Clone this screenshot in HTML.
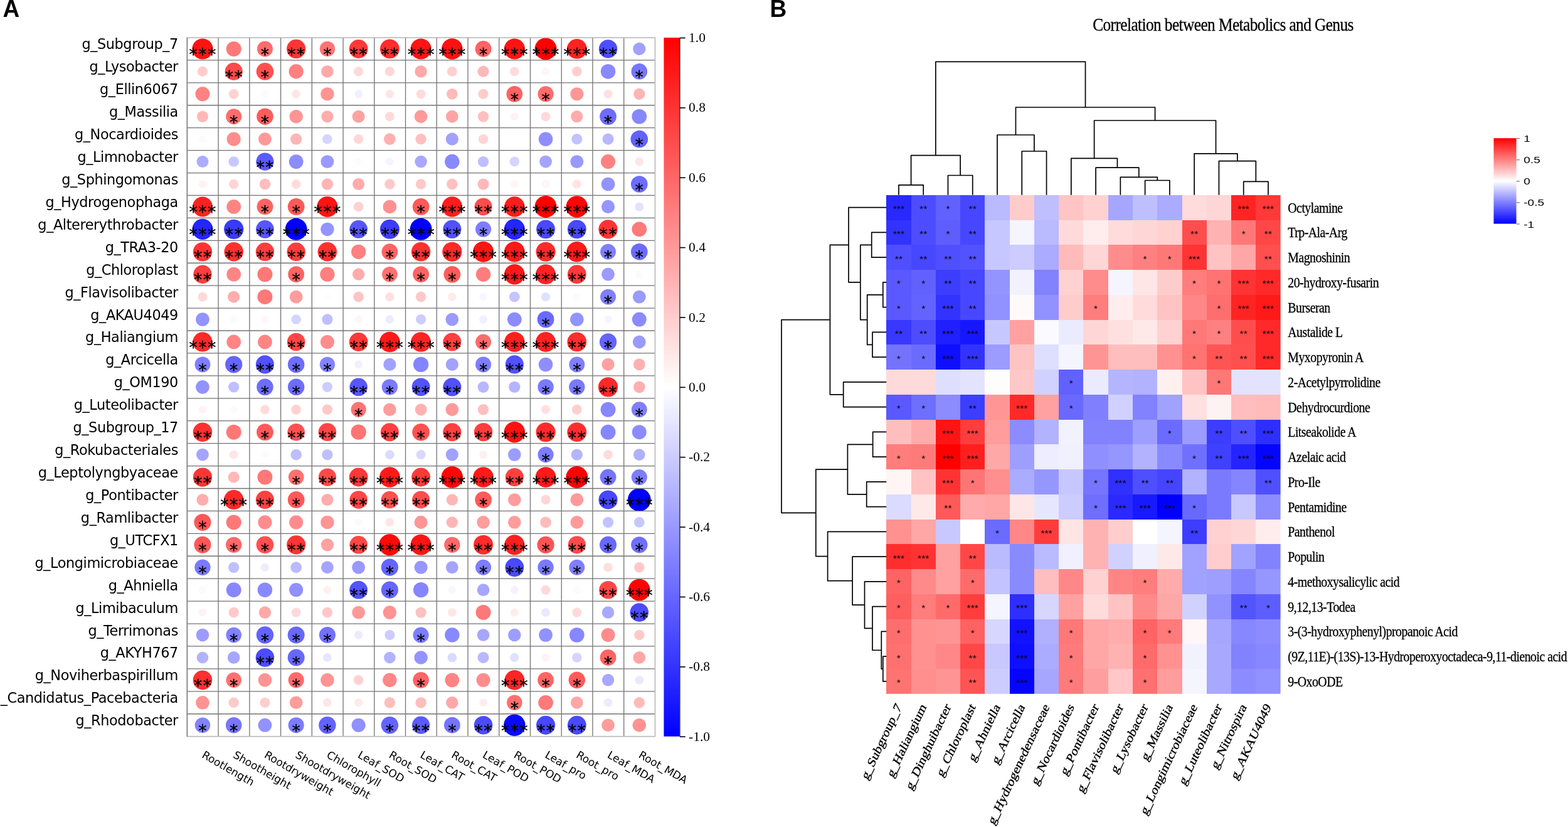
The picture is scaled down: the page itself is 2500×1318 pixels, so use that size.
<!DOCTYPE html>
<html lang="en"><head><meta charset="utf-8"><title>Correlation between Metabolics and Genus</title>
<style>
html,body{margin:0;padding:0;background:#fff;}
body{width:2500px;height:1318px;overflow:hidden;}
svg{display:block;}
.dj{font-family:"DejaVu Sans","Liberation Sans",sans-serif;}
.ls{font-family:"Liberation Serif",serif;}
.la{font-family:"Liberation Sans",sans-serif;}
</style></head><body>
<svg width="2500" height="1318" viewBox="0 0 2500 1318">
<defs>
<linearGradient id="gA" x1="0" y1="0" x2="0" y2="1"><stop offset="0" stop-color="#ff0000"/><stop offset="0.5" stop-color="#ffffff"/><stop offset="1" stop-color="#0000ff"/></linearGradient>
</defs>
<rect x="0" y="0" width="2500" height="1318" fill="#ffffff"/>
<text class="la" transform="translate(4.6,26.6) scale(1,1.06)" font-size="37" font-weight="bold" fill="#000">A</text>
<text class="la" transform="translate(1227.4,26.6) scale(1,1.06)" font-size="37" font-weight="bold" fill="#000">B</text>
<g id="panelA">
<g>
<circle cx="322.97" cy="77.96" r="16.56" fill="#ff1414"/>
<circle cx="372.7" cy="77.96" r="11.98" fill="#ff7878"/>
<circle cx="422.44" cy="77.96" r="12.51" fill="#ff6c6c"/>
<circle cx="472.17" cy="77.96" r="15.09" fill="#ff3434"/>
<circle cx="521.91" cy="77.96" r="12.15" fill="#ff7474"/>
<circle cx="571.64" cy="77.96" r="14.92" fill="#ff3838"/>
<circle cx="621.38" cy="77.96" r="15.38" fill="#ff2e2e"/>
<circle cx="671.11" cy="77.96" r="16.56" fill="#ff1414"/>
<circle cx="720.85" cy="77.96" r="16.74" fill="#ff1111"/>
<circle cx="770.58" cy="77.96" r="12.92" fill="#ff6363"/>
<circle cx="820.32" cy="77.96" r="16.56" fill="#ff1414"/>
<circle cx="870.05" cy="77.96" r="17.5" fill="#ff0000"/>
<circle cx="919.79" cy="77.96" r="15.91" fill="#ff2222"/>
<circle cx="969.52" cy="77.96" r="14.68" fill="#4e4eff"/>
<circle cx="1019.26" cy="77.96" r="10.1" fill="#a1a1ff"/>
<circle cx="322.97" cy="113.89" r="8.1" fill="#ffcccc"/>
<circle cx="372.7" cy="113.89" r="14.09" fill="#ff4a4a"/>
<circle cx="422.44" cy="113.89" r="13.8" fill="#ff5050"/>
<circle cx="472.17" cy="113.89" r="11.62" fill="#ff8080"/>
<circle cx="521.91" cy="113.89" r="9.75" fill="#ffa8a8"/>
<circle cx="571.64" cy="113.89" r="7.51" fill="#ffd9d9"/>
<circle cx="621.38" cy="113.89" r="7.63" fill="#ffd6d6"/>
<circle cx="671.11" cy="113.89" r="9.75" fill="#ffa8a8"/>
<circle cx="720.85" cy="113.89" r="7.98" fill="#ffcfcf"/>
<circle cx="770.58" cy="113.89" r="9.04" fill="#ffb8b8"/>
<circle cx="820.32" cy="113.89" r="7.4" fill="#ffdbdb"/>
<circle cx="870.05" cy="113.89" r="6.22" fill="#fff5f5"/>
<circle cx="919.79" cy="113.89" r="7.98" fill="#ffcfcf"/>
<circle cx="969.52" cy="113.89" r="11.74" fill="#8989ff"/>
<circle cx="1019.26" cy="113.89" r="12.8" fill="#7777ff"/>
<circle cx="322.97" cy="149.81" r="11.51" fill="#ff8282"/>
<circle cx="372.7" cy="149.81" r="7.87" fill="#ffd1d1"/>
<circle cx="422.44" cy="149.81" r="5.99" fill="#fafaff"/>
<circle cx="472.17" cy="149.81" r="6.92" fill="#ffe6e6"/>
<circle cx="521.91" cy="149.81" r="10.68" fill="#ff9494"/>
<circle cx="571.64" cy="149.81" r="6.46" fill="#f0f0ff"/>
<circle cx="621.38" cy="149.81" r="6.92" fill="#ffe6e6"/>
<circle cx="671.11" cy="149.81" r="7.4" fill="#ffdbdb"/>
<circle cx="720.85" cy="149.81" r="8.92" fill="#ffbaba"/>
<circle cx="770.58" cy="149.81" r="8.1" fill="#ffcccc"/>
<circle cx="820.32" cy="149.81" r="12.92" fill="#ff6363"/>
<circle cx="870.05" cy="149.81" r="12.56" fill="#ff6b6b"/>
<circle cx="919.79" cy="149.81" r="10.57" fill="#ff9696"/>
<circle cx="969.52" cy="149.81" r="7.16" fill="#ffe0e0"/>
<circle cx="1019.26" cy="149.81" r="9.16" fill="#ffb5b5"/>
<circle cx="322.97" cy="185.74" r="9.04" fill="#ffb8b8"/>
<circle cx="372.7" cy="185.74" r="12.51" fill="#ff6c6c"/>
<circle cx="422.44" cy="185.74" r="13.27" fill="#ff5c5c"/>
<circle cx="472.17" cy="185.74" r="10.68" fill="#ff9494"/>
<circle cx="521.91" cy="185.74" r="9.57" fill="#ffacac"/>
<circle cx="571.64" cy="185.74" r="10.04" fill="#ffa2a2"/>
<circle cx="621.38" cy="185.74" r="7.51" fill="#ffd9d9"/>
<circle cx="671.11" cy="185.74" r="10.39" fill="#ff9a9a"/>
<circle cx="720.85" cy="185.74" r="9.92" fill="#ffa4a4"/>
<circle cx="770.58" cy="185.74" r="8.69" fill="#ffbfbf"/>
<circle cx="820.32" cy="185.74" r="6.34" fill="#fff2f2"/>
<circle cx="870.05" cy="185.74" r="7.51" fill="#ffd9d9"/>
<circle cx="919.79" cy="185.74" r="9.63" fill="#ffabab"/>
<circle cx="969.52" cy="185.74" r="13.33" fill="#6c6cff"/>
<circle cx="1019.26" cy="185.74" r="11.86" fill="#8787ff"/>
<circle cx="322.97" cy="221.66" r="5.99" fill="#fafaff"/>
<circle cx="372.7" cy="221.66" r="11.04" fill="#ff8c8c"/>
<circle cx="422.44" cy="221.66" r="10.45" fill="#ff9999"/>
<circle cx="472.17" cy="221.66" r="9.16" fill="#ffb5b5"/>
<circle cx="521.91" cy="221.66" r="7.75" fill="#d4d4ff"/>
<circle cx="571.64" cy="221.66" r="7.63" fill="#ffd6d6"/>
<circle cx="621.38" cy="221.66" r="9.39" fill="#ffb0b0"/>
<circle cx="671.11" cy="221.66" r="8.69" fill="#ffbfbf"/>
<circle cx="720.85" cy="221.66" r="10.1" fill="#a1a1ff"/>
<circle cx="770.58" cy="221.66" r="7.75" fill="#ffd4d4"/>
<circle cx="870.05" cy="221.66" r="11.27" fill="#8e8eff"/>
<circle cx="919.79" cy="221.66" r="8.57" fill="#c2c2ff"/>
<circle cx="969.52" cy="221.66" r="9.04" fill="#b8b8ff"/>
<circle cx="1019.26" cy="221.66" r="13.8" fill="#6161ff"/>
<circle cx="322.97" cy="257.59" r="9.51" fill="#adadff"/>
<circle cx="372.7" cy="257.59" r="8.28" fill="#c8c8ff"/>
<circle cx="422.44" cy="257.59" r="14.15" fill="#5a5aff"/>
<circle cx="472.17" cy="257.59" r="11.39" fill="#8c8cff"/>
<circle cx="521.91" cy="257.59" r="10.45" fill="#9999ff"/>
<circle cx="571.64" cy="257.59" r="5.99" fill="#fffafa"/>
<circle cx="621.38" cy="257.59" r="6.22" fill="#f5f5ff"/>
<circle cx="671.11" cy="257.59" r="9.75" fill="#a8a8ff"/>
<circle cx="720.85" cy="257.59" r="11.74" fill="#8989ff"/>
<circle cx="770.58" cy="257.59" r="8.69" fill="#bfbfff"/>
<circle cx="820.32" cy="257.59" r="7.75" fill="#d4d4ff"/>
<circle cx="870.05" cy="257.59" r="9.92" fill="#a4a4ff"/>
<circle cx="919.79" cy="257.59" r="10.45" fill="#9999ff"/>
<circle cx="969.52" cy="257.59" r="11.51" fill="#ff8282"/>
<circle cx="1019.26" cy="257.59" r="6.92" fill="#ffe6e6"/>
<circle cx="322.97" cy="293.51" r="6.34" fill="#fff2f2"/>
<circle cx="372.7" cy="293.51" r="7.75" fill="#ffd4d4"/>
<circle cx="422.44" cy="293.51" r="8.8" fill="#ffbdbd"/>
<circle cx="472.17" cy="293.51" r="7.4" fill="#ffdbdb"/>
<circle cx="521.91" cy="293.51" r="9.16" fill="#ffb5b5"/>
<circle cx="571.64" cy="293.51" r="9.57" fill="#ffacac"/>
<circle cx="621.38" cy="293.51" r="8.28" fill="#ffc8c8"/>
<circle cx="671.11" cy="293.51" r="8.28" fill="#ffc8c8"/>
<circle cx="720.85" cy="293.51" r="8.69" fill="#ffbfbf"/>
<circle cx="770.58" cy="293.51" r="9.04" fill="#ffb8b8"/>
<circle cx="820.32" cy="293.51" r="6.22" fill="#fff5f5"/>
<circle cx="870.05" cy="293.51" r="6.22" fill="#fff5f5"/>
<circle cx="919.79" cy="293.51" r="7.04" fill="#ffe3e3"/>
<circle cx="969.52" cy="293.51" r="10.8" fill="#9393ff"/>
<circle cx="1019.26" cy="293.51" r="13.33" fill="#6c6cff"/>
<circle cx="322.97" cy="329.44" r="15.97" fill="#ff2121"/>
<circle cx="372.7" cy="329.44" r="11.39" fill="#ff8585"/>
<circle cx="422.44" cy="329.44" r="12.92" fill="#ff6363"/>
<circle cx="472.17" cy="329.44" r="13.39" fill="#ff5959"/>
<circle cx="521.91" cy="329.44" r="16.56" fill="#ff1414"/>
<circle cx="571.64" cy="329.44" r="7.87" fill="#ffd1d1"/>
<circle cx="621.38" cy="329.44" r="10.8" fill="#ff9191"/>
<circle cx="671.11" cy="329.44" r="13.39" fill="#ff5959"/>
<circle cx="720.85" cy="329.44" r="16.21" fill="#ff1c1c"/>
<circle cx="770.58" cy="329.44" r="13.97" fill="#ff4d4d"/>
<circle cx="820.32" cy="329.44" r="16.21" fill="#ff1c1c"/>
<circle cx="870.05" cy="329.44" r="17.5" fill="#ff0000"/>
<circle cx="919.79" cy="329.44" r="17.27" fill="#ff0505"/>
<circle cx="969.52" cy="329.44" r="10.57" fill="#9696ff"/>
<circle cx="1019.26" cy="329.44" r="7.04" fill="#e3e3ff"/>
<circle cx="322.97" cy="365.36" r="16.56" fill="#2525ff"/>
<circle cx="372.7" cy="365.36" r="15.62" fill="#3a3aff"/>
<circle cx="422.44" cy="365.36" r="14.33" fill="#5656ff"/>
<circle cx="472.17" cy="365.36" r="17.5" fill="#0000ff"/>
<circle cx="521.91" cy="365.36" r="10.68" fill="#9494ff"/>
<circle cx="571.64" cy="365.36" r="14.33" fill="#5656ff"/>
<circle cx="621.38" cy="365.36" r="15.5" fill="#3c3cff"/>
<circle cx="671.11" cy="365.36" r="17.5" fill="#0000ff"/>
<circle cx="720.85" cy="365.36" r="14.56" fill="#5151ff"/>
<circle cx="770.58" cy="365.36" r="12.51" fill="#7d7dff"/>
<circle cx="820.32" cy="365.36" r="16.56" fill="#2525ff"/>
<circle cx="870.05" cy="365.36" r="14.92" fill="#4949ff"/>
<circle cx="919.79" cy="365.36" r="14.92" fill="#4949ff"/>
<circle cx="969.52" cy="365.36" r="15.15" fill="#ff3333"/>
<circle cx="1019.26" cy="365.36" r="11.86" fill="#ff7a7a"/>
<circle cx="322.97" cy="401.29" r="15.15" fill="#ff3333"/>
<circle cx="372.7" cy="401.29" r="15.27" fill="#ff3030"/>
<circle cx="422.44" cy="401.29" r="14.68" fill="#ff3d3d"/>
<circle cx="472.17" cy="401.29" r="14.68" fill="#ff3d3d"/>
<circle cx="521.91" cy="401.29" r="15.27" fill="#ff3030"/>
<circle cx="571.64" cy="401.29" r="11.62" fill="#ff8080"/>
<circle cx="621.38" cy="401.29" r="12.92" fill="#ff6363"/>
<circle cx="671.11" cy="401.29" r="15.27" fill="#ff3030"/>
<circle cx="720.85" cy="401.29" r="15.62" fill="#ff2929"/>
<circle cx="770.58" cy="401.29" r="16.56" fill="#ff1414"/>
<circle cx="820.32" cy="401.29" r="16.33" fill="#ff1919"/>
<circle cx="870.05" cy="401.29" r="15.5" fill="#ff2b2b"/>
<circle cx="919.79" cy="401.29" r="16.33" fill="#ff1919"/>
<circle cx="969.52" cy="401.29" r="12.45" fill="#7f7fff"/>
<circle cx="1019.26" cy="401.29" r="13.33" fill="#6c6cff"/>
<circle cx="322.97" cy="437.21" r="14.68" fill="#ff3d3d"/>
<circle cx="372.7" cy="437.21" r="11.39" fill="#ff8585"/>
<circle cx="422.44" cy="437.21" r="11.98" fill="#ff7878"/>
<circle cx="472.17" cy="437.21" r="12.92" fill="#ff6363"/>
<circle cx="521.91" cy="437.21" r="11.62" fill="#ff8080"/>
<circle cx="571.64" cy="437.21" r="9.63" fill="#ffabab"/>
<circle cx="621.38" cy="437.21" r="12.33" fill="#ff7070"/>
<circle cx="671.11" cy="437.21" r="12.92" fill="#ff6363"/>
<circle cx="720.85" cy="437.21" r="13.33" fill="#ff5b5b"/>
<circle cx="770.58" cy="437.21" r="11.74" fill="#ff7d7d"/>
<circle cx="820.32" cy="437.21" r="16.33" fill="#ff1919"/>
<circle cx="870.05" cy="437.21" r="15.91" fill="#ff2222"/>
<circle cx="919.79" cy="437.21" r="14.92" fill="#ff3838"/>
<circle cx="969.52" cy="437.21" r="10.39" fill="#9a9aff"/>
<circle cx="1019.26" cy="437.21" r="5.99" fill="#fafaff"/>
<circle cx="322.97" cy="473.14" r="7.51" fill="#ffd9d9"/>
<circle cx="372.7" cy="473.14" r="9.51" fill="#ffadad"/>
<circle cx="422.44" cy="473.14" r="11.98" fill="#ff7878"/>
<circle cx="472.17" cy="473.14" r="10.33" fill="#ff9c9c"/>
<circle cx="521.91" cy="473.14" r="5.87" fill="#fffcfc"/>
<circle cx="571.64" cy="473.14" r="8.45" fill="#ffc4c4"/>
<circle cx="621.38" cy="473.14" r="7.16" fill="#ffe0e0"/>
<circle cx="671.11" cy="473.14" r="8.28" fill="#ffc8c8"/>
<circle cx="720.85" cy="473.14" r="6.69" fill="#ffebeb"/>
<circle cx="770.58" cy="473.14" r="6.1" fill="#f7f7ff"/>
<circle cx="820.32" cy="473.14" r="8.45" fill="#c4c4ff"/>
<circle cx="870.05" cy="473.14" r="7.16" fill="#e0e0ff"/>
<circle cx="919.79" cy="473.14" r="5.99" fill="#fafaff"/>
<circle cx="969.52" cy="473.14" r="12.45" fill="#7f7fff"/>
<circle cx="1019.26" cy="473.14" r="10.39" fill="#9a9aff"/>
<circle cx="322.97" cy="509.06" r="10.8" fill="#9393ff"/>
<circle cx="372.7" cy="509.06" r="5.99" fill="#fafaff"/>
<circle cx="422.44" cy="509.06" r="6.1" fill="#fff7f7"/>
<circle cx="472.17" cy="509.06" r="7.75" fill="#d4d4ff"/>
<circle cx="521.91" cy="509.06" r="8.69" fill="#bfbfff"/>
<circle cx="571.64" cy="509.06" r="6.22" fill="#fff5f5"/>
<circle cx="621.38" cy="509.06" r="6.69" fill="#ebebff"/>
<circle cx="671.11" cy="509.06" r="8.1" fill="#ccccff"/>
<circle cx="720.85" cy="509.06" r="10.39" fill="#9a9aff"/>
<circle cx="770.58" cy="509.06" r="6.46" fill="#f0f0ff"/>
<circle cx="820.32" cy="509.06" r="11.39" fill="#8c8cff"/>
<circle cx="870.05" cy="509.06" r="13.39" fill="#6a6aff"/>
<circle cx="919.79" cy="509.06" r="10.8" fill="#9393ff"/>
<circle cx="969.52" cy="509.06" r="6.22" fill="#f5f5ff"/>
<circle cx="1019.26" cy="509.06" r="11.51" fill="#8b8bff"/>
<circle cx="322.97" cy="544.99" r="15.62" fill="#ff2929"/>
<circle cx="372.7" cy="544.99" r="11.39" fill="#ff8585"/>
<circle cx="422.44" cy="544.99" r="11.39" fill="#ff8585"/>
<circle cx="472.17" cy="544.99" r="14.33" fill="#ff4545"/>
<circle cx="521.91" cy="544.99" r="11.04" fill="#ff8c8c"/>
<circle cx="571.64" cy="544.99" r="14.92" fill="#ff3838"/>
<circle cx="621.38" cy="544.99" r="16.33" fill="#ff1919"/>
<circle cx="671.11" cy="544.99" r="15.86" fill="#ff2424"/>
<circle cx="720.85" cy="544.99" r="14.56" fill="#ff4040"/>
<circle cx="770.58" cy="544.99" r="12.51" fill="#ff6c6c"/>
<circle cx="820.32" cy="544.99" r="16.09" fill="#ff1f1f"/>
<circle cx="870.05" cy="544.99" r="15.91" fill="#ff2222"/>
<circle cx="919.79" cy="544.99" r="15.38" fill="#ff2e2e"/>
<circle cx="969.52" cy="544.99" r="13.62" fill="#6565ff"/>
<circle cx="1019.26" cy="544.99" r="10.39" fill="#9a9aff"/>
<circle cx="322.97" cy="580.91" r="12.45" fill="#7f7fff"/>
<circle cx="372.7" cy="580.91" r="13.62" fill="#6565ff"/>
<circle cx="422.44" cy="580.91" r="14.56" fill="#5151ff"/>
<circle cx="472.17" cy="580.91" r="13.27" fill="#6d6dff"/>
<circle cx="521.91" cy="580.91" r="12.15" fill="#8484ff"/>
<circle cx="571.64" cy="580.91" r="6.46" fill="#f0f0ff"/>
<circle cx="621.38" cy="580.91" r="10.1" fill="#a1a1ff"/>
<circle cx="671.11" cy="580.91" r="12.15" fill="#8484ff"/>
<circle cx="720.85" cy="580.91" r="10.1" fill="#a1a1ff"/>
<circle cx="770.58" cy="580.91" r="12.51" fill="#7d7dff"/>
<circle cx="820.32" cy="580.91" r="14.56" fill="#5151ff"/>
<circle cx="870.05" cy="580.91" r="11.27" fill="#8e8eff"/>
<circle cx="919.79" cy="580.91" r="12.45" fill="#7f7fff"/>
<circle cx="969.52" cy="580.91" r="10.1" fill="#ffa1a1"/>
<circle cx="1019.26" cy="580.91" r="9.39" fill="#ffb0b0"/>
<circle cx="322.97" cy="616.84" r="10.8" fill="#9393ff"/>
<circle cx="372.7" cy="616.84" r="8.69" fill="#bfbfff"/>
<circle cx="422.44" cy="616.84" r="13.27" fill="#6d6dff"/>
<circle cx="472.17" cy="616.84" r="13.27" fill="#6d6dff"/>
<circle cx="521.91" cy="616.84" r="8.1" fill="#ccccff"/>
<circle cx="571.64" cy="616.84" r="14.27" fill="#5757ff"/>
<circle cx="621.38" cy="616.84" r="12.68" fill="#7a7aff"/>
<circle cx="671.11" cy="616.84" r="14.45" fill="#5353ff"/>
<circle cx="720.85" cy="616.84" r="14.56" fill="#5151ff"/>
<circle cx="770.58" cy="616.84" r="9.04" fill="#b8b8ff"/>
<circle cx="820.32" cy="616.84" r="9.16" fill="#b5b5ff"/>
<circle cx="870.05" cy="616.84" r="12.68" fill="#7a7aff"/>
<circle cx="919.79" cy="616.84" r="12.68" fill="#7a7aff"/>
<circle cx="969.52" cy="616.84" r="15.62" fill="#ff2929"/>
<circle cx="1019.26" cy="616.84" r="9.39" fill="#ffb0b0"/>
<circle cx="322.97" cy="652.76" r="6.34" fill="#fff2f2"/>
<circle cx="372.7" cy="652.76" r="5.87" fill="#fcfcff"/>
<circle cx="422.44" cy="652.76" r="7.4" fill="#ffdbdb"/>
<circle cx="472.17" cy="652.76" r="7.87" fill="#ffd1d1"/>
<circle cx="521.91" cy="652.76" r="8.28" fill="#ffc8c8"/>
<circle cx="571.64" cy="652.76" r="12.15" fill="#ff7474"/>
<circle cx="621.38" cy="652.76" r="10.33" fill="#ff9c9c"/>
<circle cx="671.11" cy="652.76" r="9.39" fill="#ffb0b0"/>
<circle cx="720.85" cy="652.76" r="10.39" fill="#ff9a9a"/>
<circle cx="770.58" cy="652.76" r="8.69" fill="#ffbfbf"/>
<circle cx="870.05" cy="652.76" r="7.16" fill="#ffe0e0"/>
<circle cx="919.79" cy="652.76" r="7.98" fill="#ffcfcf"/>
<circle cx="969.52" cy="652.76" r="11.98" fill="#8686ff"/>
<circle cx="1019.26" cy="652.76" r="12.45" fill="#7f7fff"/>
<circle cx="322.97" cy="688.69" r="15.27" fill="#ff3030"/>
<circle cx="372.7" cy="688.69" r="11.98" fill="#ff7878"/>
<circle cx="422.44" cy="688.69" r="13.39" fill="#ff5959"/>
<circle cx="472.17" cy="688.69" r="13.8" fill="#ff5050"/>
<circle cx="521.91" cy="688.69" r="14.33" fill="#ff4545"/>
<circle cx="571.64" cy="688.69" r="12.15" fill="#ff7474"/>
<circle cx="621.38" cy="688.69" r="14.56" fill="#ff4040"/>
<circle cx="671.11" cy="688.69" r="13.8" fill="#ff5050"/>
<circle cx="720.85" cy="688.69" r="14.56" fill="#ff4040"/>
<circle cx="770.58" cy="688.69" r="14.68" fill="#ff3d3d"/>
<circle cx="820.32" cy="688.69" r="16.74" fill="#ff1111"/>
<circle cx="870.05" cy="688.69" r="15.5" fill="#ff2b2b"/>
<circle cx="919.79" cy="688.69" r="15.38" fill="#ff2e2e"/>
<circle cx="969.52" cy="688.69" r="11.98" fill="#8686ff"/>
<circle cx="1019.26" cy="688.69" r="11.51" fill="#8b8bff"/>
<circle cx="322.97" cy="724.61" r="9.92" fill="#a4a4ff"/>
<circle cx="372.7" cy="724.61" r="6.92" fill="#ffe6e6"/>
<circle cx="422.44" cy="724.61" r="5.99" fill="#fffafa"/>
<circle cx="472.17" cy="724.61" r="8.8" fill="#bdbdff"/>
<circle cx="521.91" cy="724.61" r="8.69" fill="#bfbfff"/>
<circle cx="621.38" cy="724.61" r="7.4" fill="#dbdbff"/>
<circle cx="671.11" cy="724.61" r="7.51" fill="#d9d9ff"/>
<circle cx="720.85" cy="724.61" r="10.1" fill="#a1a1ff"/>
<circle cx="770.58" cy="724.61" r="6.46" fill="#fff0f0"/>
<circle cx="820.32" cy="724.61" r="10.33" fill="#9c9cff"/>
<circle cx="870.05" cy="724.61" r="12.56" fill="#7c7cff"/>
<circle cx="919.79" cy="724.61" r="9.16" fill="#b5b5ff"/>
<circle cx="969.52" cy="724.61" r="7.4" fill="#ffdbdb"/>
<circle cx="1019.26" cy="724.61" r="9.39" fill="#b0b0ff"/>
<circle cx="322.97" cy="760.54" r="15.09" fill="#ff3434"/>
<circle cx="372.7" cy="760.54" r="9.04" fill="#ffb8b8"/>
<circle cx="422.44" cy="760.54" r="11.98" fill="#ff7878"/>
<circle cx="472.17" cy="760.54" r="12.33" fill="#ff7070"/>
<circle cx="521.91" cy="760.54" r="14.15" fill="#ff4949"/>
<circle cx="571.64" cy="760.54" r="14.92" fill="#ff3838"/>
<circle cx="621.38" cy="760.54" r="16.33" fill="#ff1919"/>
<circle cx="671.11" cy="760.54" r="14.92" fill="#ff3838"/>
<circle cx="720.85" cy="760.54" r="17.27" fill="#ff0505"/>
<circle cx="770.58" cy="760.54" r="16.33" fill="#ff1919"/>
<circle cx="820.32" cy="760.54" r="14.56" fill="#ff4040"/>
<circle cx="870.05" cy="760.54" r="16.33" fill="#ff1919"/>
<circle cx="919.79" cy="760.54" r="17.5" fill="#ff0000"/>
<circle cx="969.52" cy="760.54" r="12.92" fill="#7474ff"/>
<circle cx="1019.26" cy="760.54" r="12.56" fill="#7c7cff"/>
<circle cx="322.97" cy="796.46" r="9.51" fill="#ffadad"/>
<circle cx="372.7" cy="796.46" r="15.62" fill="#ff2929"/>
<circle cx="422.44" cy="796.46" r="14.56" fill="#ff4040"/>
<circle cx="472.17" cy="796.46" r="13.39" fill="#ff5959"/>
<circle cx="521.91" cy="796.46" r="9.57" fill="#ffacac"/>
<circle cx="571.64" cy="796.46" r="14.27" fill="#ff4646"/>
<circle cx="621.38" cy="796.46" r="13.8" fill="#ff5050"/>
<circle cx="671.11" cy="796.46" r="13.97" fill="#ff4d4d"/>
<circle cx="720.85" cy="796.46" r="9.16" fill="#ffb5b5"/>
<circle cx="770.58" cy="796.46" r="13.33" fill="#ff5b5b"/>
<circle cx="820.32" cy="796.46" r="10.33" fill="#ff9c9c"/>
<circle cx="870.05" cy="796.46" r="7.63" fill="#ffd6d6"/>
<circle cx="919.79" cy="796.46" r="10.39" fill="#ff9a9a"/>
<circle cx="969.52" cy="796.46" r="15.03" fill="#4747ff"/>
<circle cx="1019.26" cy="796.46" r="18.44" fill="#0000ff"/>
<circle cx="322.97" cy="832.39" r="13.51" fill="#ff5757"/>
<circle cx="372.7" cy="832.39" r="11.98" fill="#ff7878"/>
<circle cx="422.44" cy="832.39" r="11.04" fill="#ff8c8c"/>
<circle cx="472.17" cy="832.39" r="11.04" fill="#ff8c8c"/>
<circle cx="521.91" cy="832.39" r="10.68" fill="#ff9494"/>
<circle cx="571.64" cy="832.39" r="5.99" fill="#fafaff"/>
<circle cx="621.38" cy="832.39" r="6.92" fill="#ffe6e6"/>
<circle cx="671.11" cy="832.39" r="10.57" fill="#ff9696"/>
<circle cx="720.85" cy="832.39" r="9.16" fill="#ffb5b5"/>
<circle cx="770.58" cy="832.39" r="10.33" fill="#ff9c9c"/>
<circle cx="820.32" cy="832.39" r="10.33" fill="#ff9c9c"/>
<circle cx="870.05" cy="832.39" r="8.92" fill="#ffbaba"/>
<circle cx="919.79" cy="832.39" r="10.39" fill="#ff9a9a"/>
<circle cx="969.52" cy="832.39" r="8.57" fill="#c2c2ff"/>
<circle cx="1019.26" cy="832.39" r="8.34" fill="#c7c7ff"/>
<circle cx="322.97" cy="868.31" r="13.51" fill="#ff5757"/>
<circle cx="372.7" cy="868.31" r="12.68" fill="#ff6969"/>
<circle cx="422.44" cy="868.31" r="13.8" fill="#ff5050"/>
<circle cx="472.17" cy="868.31" r="15.09" fill="#ff3434"/>
<circle cx="521.91" cy="868.31" r="10.1" fill="#ffa1a1"/>
<circle cx="571.64" cy="868.31" r="14.27" fill="#ff4646"/>
<circle cx="621.38" cy="868.31" r="17.15" fill="#ff0808"/>
<circle cx="671.11" cy="868.31" r="16.56" fill="#ff1414"/>
<circle cx="720.85" cy="868.31" r="12.68" fill="#ff6969"/>
<circle cx="770.58" cy="868.31" r="15.5" fill="#ff2b2b"/>
<circle cx="820.32" cy="868.31" r="16.09" fill="#ff1f1f"/>
<circle cx="870.05" cy="868.31" r="13.62" fill="#ff5454"/>
<circle cx="919.79" cy="868.31" r="14.09" fill="#ff4a4a"/>
<circle cx="969.52" cy="868.31" r="13.51" fill="#6868ff"/>
<circle cx="1019.26" cy="868.31" r="13.15" fill="#6f6fff"/>
<circle cx="322.97" cy="904.24" r="12.68" fill="#7a7aff"/>
<circle cx="372.7" cy="904.24" r="8.69" fill="#bfbfff"/>
<circle cx="422.44" cy="904.24" r="6.57" fill="#ededff"/>
<circle cx="472.17" cy="904.24" r="8.92" fill="#babaff"/>
<circle cx="521.91" cy="904.24" r="9.92" fill="#a4a4ff"/>
<circle cx="571.64" cy="904.24" r="10.45" fill="#9999ff"/>
<circle cx="621.38" cy="904.24" r="13.62" fill="#6565ff"/>
<circle cx="671.11" cy="904.24" r="10.57" fill="#9696ff"/>
<circle cx="720.85" cy="904.24" r="9.92" fill="#a4a4ff"/>
<circle cx="770.58" cy="904.24" r="12.51" fill="#7d7dff"/>
<circle cx="820.32" cy="904.24" r="14.92" fill="#4949ff"/>
<circle cx="870.05" cy="904.24" r="12.68" fill="#7a7aff"/>
<circle cx="919.79" cy="904.24" r="12.45" fill="#7f7fff"/>
<circle cx="969.52" cy="904.24" r="7.28" fill="#ffdede"/>
<circle cx="1019.26" cy="904.24" r="8.28" fill="#ffc8c8"/>
<circle cx="322.97" cy="940.16" r="5.99" fill="#fafaff"/>
<circle cx="372.7" cy="940.16" r="11.86" fill="#8787ff"/>
<circle cx="422.44" cy="940.16" r="11.74" fill="#8989ff"/>
<circle cx="472.17" cy="940.16" r="11.04" fill="#9090ff"/>
<circle cx="521.91" cy="940.16" r="6.46" fill="#fff0f0"/>
<circle cx="571.64" cy="940.16" r="14.45" fill="#5353ff"/>
<circle cx="621.38" cy="940.16" r="13.56" fill="#6666ff"/>
<circle cx="671.11" cy="940.16" r="12.1" fill="#8585ff"/>
<circle cx="720.85" cy="940.16" r="6.1" fill="#f7f7ff"/>
<circle cx="770.58" cy="940.16" r="9.86" fill="#a6a6ff"/>
<circle cx="820.32" cy="940.16" r="6.34" fill="#f2f2ff"/>
<circle cx="870.05" cy="940.16" r="7.51" fill="#ffd9d9"/>
<circle cx="919.79" cy="940.16" r="5.99" fill="#fafaff"/>
<circle cx="969.52" cy="940.16" r="14.27" fill="#ff4646"/>
<circle cx="1019.26" cy="940.16" r="17.38" fill="#ff0303"/>
<circle cx="322.97" cy="976.09" r="6.34" fill="#fff2f2"/>
<circle cx="372.7" cy="976.09" r="8.22" fill="#ffc9c9"/>
<circle cx="422.44" cy="976.09" r="9.75" fill="#ffa8a8"/>
<circle cx="472.17" cy="976.09" r="7.51" fill="#ffd9d9"/>
<circle cx="521.91" cy="976.09" r="8.34" fill="#ffc7c7"/>
<circle cx="571.64" cy="976.09" r="10.45" fill="#ff9999"/>
<circle cx="621.38" cy="976.09" r="10.74" fill="#ff9393"/>
<circle cx="671.11" cy="976.09" r="8.63" fill="#ffc1c1"/>
<circle cx="720.85" cy="976.09" r="6.92" fill="#ffe6e6"/>
<circle cx="770.58" cy="976.09" r="11.98" fill="#ff7878"/>
<circle cx="820.32" cy="976.09" r="6.57" fill="#ffeded"/>
<circle cx="870.05" cy="976.09" r="6.81" fill="#e8e8ff"/>
<circle cx="919.79" cy="976.09" r="7.51" fill="#ffd9d9"/>
<circle cx="969.52" cy="976.09" r="9.75" fill="#a8a8ff"/>
<circle cx="1019.26" cy="976.09" r="14.8" fill="#4c4cff"/>
<circle cx="322.97" cy="1012.01" r="10.33" fill="#9c9cff"/>
<circle cx="372.7" cy="1012.01" r="12.33" fill="#8181ff"/>
<circle cx="422.44" cy="1012.01" r="13.74" fill="#6363ff"/>
<circle cx="472.17" cy="1012.01" r="13.51" fill="#6868ff"/>
<circle cx="521.91" cy="1012.01" r="13.04" fill="#7272ff"/>
<circle cx="571.64" cy="1012.01" r="6.69" fill="#ebebff"/>
<circle cx="621.38" cy="1012.01" r="8.1" fill="#ccccff"/>
<circle cx="671.11" cy="1012.01" r="12.56" fill="#7c7cff"/>
<circle cx="720.85" cy="1012.01" r="11.74" fill="#8989ff"/>
<circle cx="770.58" cy="1012.01" r="9.86" fill="#a6a6ff"/>
<circle cx="820.32" cy="1012.01" r="10.27" fill="#9d9dff"/>
<circle cx="870.05" cy="1012.01" r="10.86" fill="#9292ff"/>
<circle cx="919.79" cy="1012.01" r="11.86" fill="#8787ff"/>
<circle cx="969.52" cy="1012.01" r="11.04" fill="#ff8c8c"/>
<circle cx="1019.26" cy="1012.01" r="8.22" fill="#ffc9c9"/>
<circle cx="322.97" cy="1047.94" r="9.28" fill="#b2b2ff"/>
<circle cx="372.7" cy="1047.94" r="9.86" fill="#a6a6ff"/>
<circle cx="422.44" cy="1047.94" r="14.8" fill="#4c4cff"/>
<circle cx="472.17" cy="1047.94" r="13.51" fill="#6868ff"/>
<circle cx="521.91" cy="1047.94" r="6.92" fill="#e6e6ff"/>
<circle cx="621.38" cy="1047.94" r="9.28" fill="#b2b2ff"/>
<circle cx="671.11" cy="1047.94" r="10.68" fill="#9494ff"/>
<circle cx="720.85" cy="1047.94" r="7.4" fill="#dbdbff"/>
<circle cx="770.58" cy="1047.94" r="9.04" fill="#b8b8ff"/>
<circle cx="820.32" cy="1047.94" r="7.16" fill="#e0e0ff"/>
<circle cx="870.05" cy="1047.94" r="6.34" fill="#fff2f2"/>
<circle cx="919.79" cy="1047.94" r="7.75" fill="#d4d4ff"/>
<circle cx="969.52" cy="1047.94" r="12.86" fill="#ff6565"/>
<circle cx="1019.26" cy="1047.94" r="9.86" fill="#ffa6a6"/>
<circle cx="322.97" cy="1083.86" r="15.27" fill="#ff3030"/>
<circle cx="372.7" cy="1083.86" r="12.27" fill="#ff7171"/>
<circle cx="422.44" cy="1083.86" r="10.74" fill="#ff9393"/>
<circle cx="472.17" cy="1083.86" r="12.56" fill="#ff6b6b"/>
<circle cx="521.91" cy="1083.86" r="10.74" fill="#ff9393"/>
<circle cx="571.64" cy="1083.86" r="7.87" fill="#ffd1d1"/>
<circle cx="621.38" cy="1083.86" r="11.27" fill="#ff8787"/>
<circle cx="671.11" cy="1083.86" r="12.86" fill="#ff6565"/>
<circle cx="720.85" cy="1083.86" r="11.39" fill="#ff8585"/>
<circle cx="770.58" cy="1083.86" r="11.04" fill="#ff8c8c"/>
<circle cx="820.32" cy="1083.86" r="15.8" fill="#ff2525"/>
<circle cx="870.05" cy="1083.86" r="12.86" fill="#ff6565"/>
<circle cx="919.79" cy="1083.86" r="13.27" fill="#ff5c5c"/>
<circle cx="969.52" cy="1083.86" r="9.75" fill="#a8a8ff"/>
<circle cx="1019.26" cy="1083.86" r="6.81" fill="#e8e8ff"/>
<circle cx="322.97" cy="1119.79" r="10.74" fill="#ff9393"/>
<circle cx="372.7" cy="1119.79" r="8.22" fill="#ffc9c9"/>
<circle cx="422.44" cy="1119.79" r="8.04" fill="#ffcdcd"/>
<circle cx="472.17" cy="1119.79" r="10.33" fill="#ff9c9c"/>
<circle cx="521.91" cy="1119.79" r="6.92" fill="#ffe6e6"/>
<circle cx="571.64" cy="1119.79" r="6.69" fill="#ffebeb"/>
<circle cx="621.38" cy="1119.79" r="8.75" fill="#ffbebe"/>
<circle cx="671.11" cy="1119.79" r="8.8" fill="#ffbdbd"/>
<circle cx="720.85" cy="1119.79" r="9.75" fill="#ffa8a8"/>
<circle cx="770.58" cy="1119.79" r="6.57" fill="#ffeded"/>
<circle cx="820.32" cy="1119.79" r="12.33" fill="#ff7070"/>
<circle cx="870.05" cy="1119.79" r="11.86" fill="#ff7a7a"/>
<circle cx="919.79" cy="1119.79" r="9.86" fill="#ffa6a6"/>
<circle cx="969.52" cy="1119.79" r="6.69" fill="#ebebff"/>
<circle cx="1019.26" cy="1119.79" r="8.86" fill="#ffbbbb"/>
<circle cx="322.97" cy="1155.71" r="12.27" fill="#8282ff"/>
<circle cx="372.7" cy="1155.71" r="12.8" fill="#7777ff"/>
<circle cx="422.44" cy="1155.71" r="10.86" fill="#9292ff"/>
<circle cx="472.17" cy="1155.71" r="12.56" fill="#7c7cff"/>
<circle cx="521.91" cy="1155.71" r="13.74" fill="#6363ff"/>
<circle cx="571.64" cy="1155.71" r="11.04" fill="#9090ff"/>
<circle cx="621.38" cy="1155.71" r="13.74" fill="#6363ff"/>
<circle cx="671.11" cy="1155.71" r="14.09" fill="#5b5bff"/>
<circle cx="720.85" cy="1155.71" r="12.92" fill="#7474ff"/>
<circle cx="770.58" cy="1155.71" r="14.8" fill="#4c4cff"/>
<circle cx="820.32" cy="1155.71" r="17.27" fill="#0909ff"/>
<circle cx="870.05" cy="1155.71" r="15.03" fill="#4747ff"/>
<circle cx="919.79" cy="1155.71" r="14.92" fill="#4949ff"/>
<circle cx="969.52" cy="1155.71" r="10.33" fill="#ff9c9c"/>
<circle cx="1019.26" cy="1155.71" r="10.74" fill="#ff9393"/>
</g>
<g stroke="#727272" stroke-width="1.3" fill="none">
<line x1="298.4" y1="95.92" x2="1044.42" y2="95.92"/>
<line x1="298.4" y1="131.85" x2="1044.42" y2="131.85"/>
<line x1="298.4" y1="167.77" x2="1044.42" y2="167.77"/>
<line x1="298.4" y1="203.7" x2="1044.42" y2="203.7"/>
<line x1="298.4" y1="239.62" x2="1044.42" y2="239.62"/>
<line x1="298.4" y1="275.55" x2="1044.42" y2="275.55"/>
<line x1="298.4" y1="311.47" x2="1044.42" y2="311.47"/>
<line x1="298.4" y1="347.4" x2="1044.42" y2="347.4"/>
<line x1="298.4" y1="383.32" x2="1044.42" y2="383.32"/>
<line x1="298.4" y1="419.25" x2="1044.42" y2="419.25"/>
<line x1="298.4" y1="455.17" x2="1044.42" y2="455.17"/>
<line x1="298.4" y1="491.1" x2="1044.42" y2="491.1"/>
<line x1="298.4" y1="527.02" x2="1044.42" y2="527.02"/>
<line x1="298.4" y1="562.95" x2="1044.42" y2="562.95"/>
<line x1="298.4" y1="598.88" x2="1044.42" y2="598.88"/>
<line x1="298.4" y1="634.8" x2="1044.42" y2="634.8"/>
<line x1="298.4" y1="670.72" x2="1044.42" y2="670.72"/>
<line x1="298.4" y1="706.65" x2="1044.42" y2="706.65"/>
<line x1="298.4" y1="742.57" x2="1044.42" y2="742.57"/>
<line x1="298.4" y1="778.5" x2="1044.42" y2="778.5"/>
<line x1="298.4" y1="814.42" x2="1044.42" y2="814.42"/>
<line x1="298.4" y1="850.35" x2="1044.42" y2="850.35"/>
<line x1="298.4" y1="886.27" x2="1044.42" y2="886.27"/>
<line x1="298.4" y1="922.2" x2="1044.42" y2="922.2"/>
<line x1="298.4" y1="958.12" x2="1044.42" y2="958.12"/>
<line x1="298.4" y1="994.05" x2="1044.42" y2="994.05"/>
<line x1="298.4" y1="1029.97" x2="1044.42" y2="1029.97"/>
<line x1="298.4" y1="1065.9" x2="1044.42" y2="1065.9"/>
<line x1="298.4" y1="1101.82" x2="1044.42" y2="1101.82"/>
<line x1="298.4" y1="1137.75" x2="1044.42" y2="1137.75"/>
<line x1="348.13" y1="60" x2="348.13" y2="1173.67"/>
<line x1="397.87" y1="60" x2="397.87" y2="1173.67"/>
<line x1="447.6" y1="60" x2="447.6" y2="1173.67"/>
<line x1="497.34" y1="60" x2="497.34" y2="1173.67"/>
<line x1="547.08" y1="60" x2="547.08" y2="1173.67"/>
<line x1="596.81" y1="60" x2="596.81" y2="1173.67"/>
<line x1="646.54" y1="60" x2="646.54" y2="1173.67"/>
<line x1="696.28" y1="60" x2="696.28" y2="1173.67"/>
<line x1="746.01" y1="60" x2="746.01" y2="1173.67"/>
<line x1="795.75" y1="60" x2="795.75" y2="1173.67"/>
<line x1="845.49" y1="60" x2="845.49" y2="1173.67"/>
<line x1="895.22" y1="60" x2="895.22" y2="1173.67"/>
<line x1="944.95" y1="60" x2="944.95" y2="1173.67"/>
<line x1="994.69" y1="60" x2="994.69" y2="1173.67"/>
</g>
<rect x="298.4" y="60" width="746.02" height="1113.67" fill="none" stroke="#b8b8b8" stroke-width="1.6"/>
<line x1="298.4" y1="60" x2="298.4" y2="1173.67" stroke="#727272" stroke-width="1.3"/>
<g class="dj" font-size="26.6" text-anchor="middle" fill="#000" stroke="#000" stroke-width="0.35" letter-spacing="1.4">
<text x="323.67" y="95.96">***</text>
<text x="423.14" y="95.96">*</text>
<text x="472.87" y="95.96">**</text>
<text x="522.61" y="95.96">*</text>
<text x="572.34" y="95.96">**</text>
<text x="622.08" y="95.96">**</text>
<text x="671.81" y="95.96">***</text>
<text x="721.55" y="95.96">***</text>
<text x="771.28" y="95.96">*</text>
<text x="821.02" y="95.96">***</text>
<text x="870.75" y="95.96">***</text>
<text x="920.49" y="95.96">***</text>
<text x="970.22" y="95.96">**</text>
<text x="373.4" y="131.89">**</text>
<text x="423.14" y="131.89">*</text>
<text x="1019.96" y="131.89">*</text>
<text x="821.02" y="167.81">*</text>
<text x="870.75" y="167.81">*</text>
<text x="373.4" y="203.74">*</text>
<text x="423.14" y="203.74">*</text>
<text x="970.22" y="203.74">*</text>
<text x="1019.96" y="239.66">*</text>
<text x="423.14" y="275.59">**</text>
<text x="1019.96" y="311.51">*</text>
<text x="323.67" y="347.44">***</text>
<text x="423.14" y="347.44">*</text>
<text x="472.87" y="347.44">*</text>
<text x="522.61" y="347.44">***</text>
<text x="671.81" y="347.44">*</text>
<text x="721.55" y="347.44">***</text>
<text x="771.28" y="347.44">**</text>
<text x="821.02" y="347.44">***</text>
<text x="870.75" y="347.44">***</text>
<text x="920.49" y="347.44">***</text>
<text x="323.67" y="383.36">***</text>
<text x="373.4" y="383.36">**</text>
<text x="423.14" y="383.36">**</text>
<text x="472.87" y="383.36">***</text>
<text x="572.34" y="383.36">**</text>
<text x="622.08" y="383.36">**</text>
<text x="671.81" y="383.36">***</text>
<text x="721.55" y="383.36">**</text>
<text x="771.28" y="383.36">*</text>
<text x="821.02" y="383.36">***</text>
<text x="870.75" y="383.36">**</text>
<text x="920.49" y="383.36">**</text>
<text x="970.22" y="383.36">**</text>
<text x="323.67" y="419.29">**</text>
<text x="373.4" y="419.29">**</text>
<text x="423.14" y="419.29">**</text>
<text x="472.87" y="419.29">**</text>
<text x="522.61" y="419.29">**</text>
<text x="622.08" y="419.29">*</text>
<text x="671.81" y="419.29">**</text>
<text x="721.55" y="419.29">**</text>
<text x="771.28" y="419.29">***</text>
<text x="821.02" y="419.29">***</text>
<text x="870.75" y="419.29">**</text>
<text x="920.49" y="419.29">***</text>
<text x="970.22" y="419.29">*</text>
<text x="1019.96" y="419.29">*</text>
<text x="323.67" y="455.21">**</text>
<text x="472.87" y="455.21">*</text>
<text x="622.08" y="455.21">*</text>
<text x="671.81" y="455.21">*</text>
<text x="721.55" y="455.21">*</text>
<text x="821.02" y="455.21">***</text>
<text x="870.75" y="455.21">***</text>
<text x="920.49" y="455.21">**</text>
<text x="970.22" y="491.14">*</text>
<text x="870.75" y="527.06">*</text>
<text x="323.67" y="562.99">***</text>
<text x="472.87" y="562.99">**</text>
<text x="572.34" y="562.99">**</text>
<text x="622.08" y="562.99">***</text>
<text x="671.81" y="562.99">***</text>
<text x="721.55" y="562.99">**</text>
<text x="771.28" y="562.99">*</text>
<text x="821.02" y="562.99">***</text>
<text x="870.75" y="562.99">***</text>
<text x="920.49" y="562.99">**</text>
<text x="970.22" y="562.99">*</text>
<text x="323.67" y="598.91">*</text>
<text x="373.4" y="598.91">*</text>
<text x="423.14" y="598.91">**</text>
<text x="472.87" y="598.91">*</text>
<text x="522.61" y="598.91">*</text>
<text x="771.28" y="598.91">*</text>
<text x="821.02" y="598.91">**</text>
<text x="920.49" y="598.91">*</text>
<text x="423.14" y="634.84">*</text>
<text x="472.87" y="634.84">*</text>
<text x="572.34" y="634.84">**</text>
<text x="622.08" y="634.84">*</text>
<text x="671.81" y="634.84">**</text>
<text x="721.55" y="634.84">**</text>
<text x="870.75" y="634.84">*</text>
<text x="920.49" y="634.84">*</text>
<text x="970.22" y="634.84">**</text>
<text x="572.34" y="670.76">*</text>
<text x="1019.96" y="670.76">*</text>
<text x="323.67" y="706.69">**</text>
<text x="423.14" y="706.69">*</text>
<text x="472.87" y="706.69">**</text>
<text x="522.61" y="706.69">**</text>
<text x="622.08" y="706.69">**</text>
<text x="671.81" y="706.69">*</text>
<text x="721.55" y="706.69">**</text>
<text x="771.28" y="706.69">**</text>
<text x="821.02" y="706.69">***</text>
<text x="870.75" y="706.69">**</text>
<text x="920.49" y="706.69">**</text>
<text x="870.75" y="742.61">*</text>
<text x="323.67" y="778.54">**</text>
<text x="472.87" y="778.54">*</text>
<text x="522.61" y="778.54">**</text>
<text x="572.34" y="778.54">**</text>
<text x="622.08" y="778.54">***</text>
<text x="671.81" y="778.54">**</text>
<text x="721.55" y="778.54">***</text>
<text x="771.28" y="778.54">***</text>
<text x="821.02" y="778.54">**</text>
<text x="870.75" y="778.54">***</text>
<text x="920.49" y="778.54">***</text>
<text x="970.22" y="778.54">*</text>
<text x="1019.96" y="778.54">*</text>
<text x="373.4" y="814.46">***</text>
<text x="423.14" y="814.46">**</text>
<text x="472.87" y="814.46">*</text>
<text x="572.34" y="814.46">**</text>
<text x="622.08" y="814.46">**</text>
<text x="671.81" y="814.46">**</text>
<text x="771.28" y="814.46">*</text>
<text x="970.22" y="814.46">**</text>
<text x="1019.96" y="814.46">***</text>
<text x="323.67" y="850.39">*</text>
<text x="323.67" y="886.31">*</text>
<text x="373.4" y="886.31">*</text>
<text x="423.14" y="886.31">*</text>
<text x="472.87" y="886.31">**</text>
<text x="572.34" y="886.31">**</text>
<text x="622.08" y="886.31">***</text>
<text x="671.81" y="886.31">***</text>
<text x="721.55" y="886.31">*</text>
<text x="771.28" y="886.31">**</text>
<text x="821.02" y="886.31">***</text>
<text x="870.75" y="886.31">*</text>
<text x="920.49" y="886.31">**</text>
<text x="970.22" y="886.31">*</text>
<text x="1019.96" y="886.31">*</text>
<text x="323.67" y="922.24">*</text>
<text x="622.08" y="922.24">*</text>
<text x="771.28" y="922.24">*</text>
<text x="821.02" y="922.24">**</text>
<text x="870.75" y="922.24">*</text>
<text x="920.49" y="922.24">*</text>
<text x="572.34" y="958.16">**</text>
<text x="622.08" y="958.16">*</text>
<text x="970.22" y="958.16">**</text>
<text x="1019.96" y="958.16">***</text>
<text x="1019.96" y="994.09">**</text>
<text x="373.4" y="1030.01">*</text>
<text x="423.14" y="1030.01">*</text>
<text x="472.87" y="1030.01">*</text>
<text x="522.61" y="1030.01">*</text>
<text x="671.81" y="1030.01">*</text>
<text x="423.14" y="1065.94">**</text>
<text x="472.87" y="1065.94">*</text>
<text x="970.22" y="1065.94">*</text>
<text x="323.67" y="1101.86">**</text>
<text x="373.4" y="1101.86">*</text>
<text x="472.87" y="1101.86">*</text>
<text x="671.81" y="1101.86">*</text>
<text x="821.02" y="1101.86">***</text>
<text x="870.75" y="1101.86">*</text>
<text x="920.49" y="1101.86">*</text>
<text x="821.02" y="1137.79">*</text>
<text x="323.67" y="1173.71">*</text>
<text x="373.4" y="1173.71">*</text>
<text x="472.87" y="1173.71">*</text>
<text x="522.61" y="1173.71">*</text>
<text x="622.08" y="1173.71">*</text>
<text x="671.81" y="1173.71">**</text>
<text x="721.55" y="1173.71">*</text>
<text x="771.28" y="1173.71">**</text>
<text x="821.02" y="1173.71">***</text>
<text x="870.75" y="1173.71">**</text>
<text x="920.49" y="1173.71">**</text>
</g>
<g class="dj" font-size="22.2" text-anchor="end" fill="#000" letter-spacing="-0.42">
<text transform="translate(283.9,78.46) scale(1.01,1)">g_Subgroup_7</text>
<text transform="translate(283.9,114.39) scale(1.01,1)">g_Lysobacter</text>
<text transform="translate(283.9,150.31) scale(1.01,1)">g_Ellin6067</text>
<text transform="translate(283.9,186.24) scale(1.01,1)">g_Massilia</text>
<text transform="translate(283.9,222.16) scale(1.01,1)">g_Nocardioides</text>
<text transform="translate(283.9,258.09) scale(1.01,1)">g_Limnobacter</text>
<text transform="translate(283.9,294.01) scale(1.01,1)">g_Sphingomonas</text>
<text transform="translate(283.9,329.94) scale(1.01,1)">g_Hydrogenophaga</text>
<text transform="translate(283.9,365.86) scale(1.01,1)">g_Altererythrobacter</text>
<text transform="translate(283.9,401.79) scale(1.01,1)">g_TRA3-20</text>
<text transform="translate(283.9,437.71) scale(1.01,1)">g_Chloroplast</text>
<text transform="translate(283.9,473.64) scale(1.01,1)">g_Flavisolibacter</text>
<text transform="translate(283.9,509.56) scale(1.01,1)">g_AKAU4049</text>
<text transform="translate(283.9,545.49) scale(1.01,1)">g_Haliangium</text>
<text transform="translate(283.9,581.41) scale(1.01,1)">g_Arcicella</text>
<text transform="translate(283.9,617.34) scale(1.01,1)">g_OM190</text>
<text transform="translate(283.9,653.26) scale(1.01,1)">g_Luteolibacter</text>
<text transform="translate(283.9,689.19) scale(1.01,1)">g_Subgroup_17</text>
<text transform="translate(283.9,725.11) scale(1.01,1)">g_Rokubacteriales</text>
<text transform="translate(283.9,761.04) scale(1.01,1)">g_Leptolyngbyaceae</text>
<text transform="translate(283.9,796.96) scale(1.01,1)">g_Pontibacter</text>
<text transform="translate(283.9,832.89) scale(1.01,1)">g_Ramlibacter</text>
<text transform="translate(283.9,868.81) scale(1.01,1)">g_UTCFX1</text>
<text transform="translate(283.9,904.74) scale(1.01,1)">g_Longimicrobiaceae</text>
<text transform="translate(283.9,940.66) scale(1.01,1)">g_Ahniella</text>
<text transform="translate(283.9,976.59) scale(1.01,1)">g_Limibaculum</text>
<text transform="translate(283.9,1012.51) scale(1.01,1)">g_Terrimonas</text>
<text transform="translate(283.9,1048.44) scale(1.01,1)">g_AKYH767</text>
<text transform="translate(283.9,1084.36) scale(1.01,1)">g_Noviherbaspirillum</text>
<text transform="translate(283.9,1120.29) scale(1.01,1)">g_Candidatus_Pacebacteria</text>
<text transform="translate(283.9,1156.21) scale(1.01,1)">g_Rhodobacter</text>
</g>
<g class="dj" font-size="17.05" fill="#000">
<text transform="translate(320.67,1206.47) rotate(30)">Rootlength</text>
<text transform="translate(370.4,1206.47) rotate(30)">Shootheight</text>
<text transform="translate(420.14,1206.47) rotate(30)">Rootdryweight</text>
<text transform="translate(469.87,1206.47) rotate(30)">Shootdryweight</text>
<text transform="translate(519.61,1206.47) rotate(30)">Chlorophyll</text>
<text transform="translate(569.34,1206.47) rotate(30)">Leaf_SOD</text>
<text transform="translate(619.08,1206.47) rotate(30)">Root_SOD</text>
<text transform="translate(668.81,1206.47) rotate(30)">Leaf_CAT</text>
<text transform="translate(718.55,1206.47) rotate(30)">Root_CAT</text>
<text transform="translate(768.28,1206.47) rotate(30)">Leaf_POD</text>
<text transform="translate(818.02,1206.47) rotate(30)">Root_POD</text>
<text transform="translate(867.75,1206.47) rotate(30)">Leaf_pro</text>
<text transform="translate(917.49,1206.47) rotate(30)">Root_pro</text>
<text transform="translate(967.22,1206.47) rotate(30)">Leaf_MDA</text>
<text transform="translate(1016.96,1206.47) rotate(30)">Root_MDA</text>
</g>
<rect x="1058.4" y="60" width="25.5" height="1113.67" fill="url(#gA)"/>
<line x1="1083.9" y1="60" x2="1083.9" y2="1173.67" stroke="#404040" stroke-width="1.6"/>
<g stroke="#000" stroke-width="1.6">
<line x1="1083.9" y1="60.5" x2="1092.7" y2="60.5"/>
<line x1="1083.9" y1="171.87" x2="1092.7" y2="171.87"/>
<line x1="1083.9" y1="283.24" x2="1092.7" y2="283.24"/>
<line x1="1083.9" y1="394.6" x2="1092.7" y2="394.6"/>
<line x1="1083.9" y1="505.97" x2="1092.7" y2="505.97"/>
<line x1="1083.9" y1="617.34" x2="1092.7" y2="617.34"/>
<line x1="1083.9" y1="728.7" x2="1092.7" y2="728.7"/>
<line x1="1083.9" y1="840.07" x2="1092.7" y2="840.07"/>
<line x1="1083.9" y1="951.44" x2="1092.7" y2="951.44"/>
<line x1="1083.9" y1="1062.81" x2="1092.7" y2="1062.81"/>
<line x1="1083.9" y1="1174.17" x2="1092.7" y2="1174.17"/>
</g>
<g class="ls" font-size="21.4" fill="#000">
<text x="1098.1" y="67.1">1.0</text>
<text x="1098.1" y="178.47">0.8</text>
<text x="1098.1" y="289.84">0.6</text>
<text x="1098.1" y="401.2">0.4</text>
<text x="1098.1" y="512.57">0.2</text>
<text x="1098.1" y="623.94">0.0</text>
<text x="1098.1" y="735.3">-0.2</text>
<text x="1098.1" y="846.67">-0.4</text>
<text x="1098.1" y="958.04">-0.6</text>
<text x="1098.1" y="1069.41">-0.8</text>
<text x="1098.1" y="1180.77">-1.0</text>
</g>
</g>
<g id="panelB">
<text class="ls" font-size="30.3" text-anchor="middle" fill="#000" letter-spacing="-0.75" stroke="#000" stroke-width="0.3" transform="translate(1950,48.8) scale(0.84,1)">Correlation between Metabolics and Genus</text>
<g shape-rendering="crispEdges">
<rect x="1413.3" y="310.8" width="39.87" height="40.35" fill="#2929ff"/>
<rect x="1452.57" y="310.8" width="39.87" height="40.35" fill="#4d4dff"/>
<rect x="1491.84" y="310.8" width="39.87" height="40.35" fill="#6161ff"/>
<rect x="1531.11" y="310.8" width="39.87" height="40.35" fill="#4747ff"/>
<rect x="1570.38" y="310.8" width="39.87" height="40.35" fill="#babaff"/>
<rect x="1609.65" y="310.8" width="39.87" height="40.35" fill="#ffcccc"/>
<rect x="1648.92" y="310.8" width="39.87" height="40.35" fill="#bfbfff"/>
<rect x="1688.19" y="310.8" width="39.87" height="40.35" fill="#ffc4c4"/>
<rect x="1727.46" y="310.8" width="39.87" height="40.35" fill="#ffd1d1"/>
<rect x="1766.73" y="310.8" width="39.87" height="40.35" fill="#a6a6ff"/>
<rect x="1806" y="310.8" width="39.87" height="40.35" fill="#bfbfff"/>
<rect x="1845.27" y="310.8" width="39.87" height="40.35" fill="#ababff"/>
<rect x="1884.54" y="310.8" width="39.87" height="40.35" fill="#ffdbdb"/>
<rect x="1923.81" y="310.8" width="39.87" height="40.35" fill="#ffd6d6"/>
<rect x="1963.08" y="310.8" width="39.87" height="40.35" fill="#ff2424"/>
<rect x="2002.35" y="310.8" width="39.87" height="40.35" fill="#ff3838"/>
<rect x="1413.3" y="350.55" width="39.87" height="40.35" fill="#3333ff"/>
<rect x="1452.57" y="350.55" width="39.87" height="40.35" fill="#4d4dff"/>
<rect x="1491.84" y="350.55" width="39.87" height="40.35" fill="#5e5eff"/>
<rect x="1531.11" y="350.55" width="39.87" height="40.35" fill="#4747ff"/>
<rect x="1570.38" y="350.55" width="39.87" height="40.35" fill="#c7c7ff"/>
<rect x="1609.65" y="350.55" width="39.87" height="40.35" fill="#f5f5ff"/>
<rect x="1648.92" y="350.55" width="39.87" height="40.35" fill="#babaff"/>
<rect x="1688.19" y="350.55" width="39.87" height="40.35" fill="#ffdada"/>
<rect x="1727.46" y="350.55" width="39.87" height="40.35" fill="#ffeded"/>
<rect x="1766.73" y="350.55" width="39.87" height="40.35" fill="#ffdbdb"/>
<rect x="1806" y="350.55" width="39.87" height="40.35" fill="#ffd6d6"/>
<rect x="1845.27" y="350.55" width="39.87" height="40.35" fill="#ffd1d1"/>
<rect x="1884.54" y="350.55" width="39.87" height="40.35" fill="#ff4d4d"/>
<rect x="1923.81" y="350.55" width="39.87" height="40.35" fill="#ffb2b2"/>
<rect x="1963.08" y="350.55" width="39.87" height="40.35" fill="#ff7878"/>
<rect x="2002.35" y="350.55" width="39.87" height="40.35" fill="#ff4747"/>
<rect x="1413.3" y="390.3" width="39.87" height="40.35" fill="#4f4fff"/>
<rect x="1452.57" y="390.3" width="39.87" height="40.35" fill="#4747ff"/>
<rect x="1491.84" y="390.3" width="39.87" height="40.35" fill="#4f4fff"/>
<rect x="1531.11" y="390.3" width="39.87" height="40.35" fill="#5252ff"/>
<rect x="1570.38" y="390.3" width="39.87" height="40.35" fill="#c7c7ff"/>
<rect x="1609.65" y="390.3" width="39.87" height="40.35" fill="#ccccff"/>
<rect x="1648.92" y="390.3" width="39.87" height="40.35" fill="#ababff"/>
<rect x="1688.19" y="390.3" width="39.87" height="40.35" fill="#ffbaba"/>
<rect x="1727.46" y="390.3" width="39.87" height="40.35" fill="#ffd6d6"/>
<rect x="1766.73" y="390.3" width="39.87" height="40.35" fill="#ff8c8c"/>
<rect x="1806" y="390.3" width="39.87" height="40.35" fill="#ff8080"/>
<rect x="1845.27" y="390.3" width="39.87" height="40.35" fill="#ff7878"/>
<rect x="1884.54" y="390.3" width="39.87" height="40.35" fill="#ff3333"/>
<rect x="1923.81" y="390.3" width="39.87" height="40.35" fill="#ffc3c3"/>
<rect x="1963.08" y="390.3" width="39.87" height="40.35" fill="#ffa6a6"/>
<rect x="2002.35" y="390.3" width="39.87" height="40.35" fill="#ff4f4f"/>
<rect x="1413.3" y="430.05" width="39.87" height="40.35" fill="#5959ff"/>
<rect x="1452.57" y="430.05" width="39.87" height="40.35" fill="#6161ff"/>
<rect x="1491.84" y="430.05" width="39.87" height="40.35" fill="#3d3dff"/>
<rect x="1531.11" y="430.05" width="39.87" height="40.35" fill="#4747ff"/>
<rect x="1570.38" y="430.05" width="39.87" height="40.35" fill="#9494ff"/>
<rect x="1609.65" y="430.05" width="39.87" height="40.35" fill="#f2f2ff"/>
<rect x="1648.92" y="430.05" width="39.87" height="40.35" fill="#8282ff"/>
<rect x="1688.19" y="430.05" width="39.87" height="40.35" fill="#ffd1d1"/>
<rect x="1727.46" y="430.05" width="39.87" height="40.35" fill="#ff8c8c"/>
<rect x="1766.73" y="430.05" width="39.87" height="40.35" fill="#f5f5ff"/>
<rect x="1806" y="430.05" width="39.87" height="40.35" fill="#ffe6e6"/>
<rect x="1845.27" y="430.05" width="39.87" height="40.35" fill="#ffcccc"/>
<rect x="1884.54" y="430.05" width="39.87" height="40.35" fill="#ff7d7d"/>
<rect x="1923.81" y="430.05" width="39.87" height="40.35" fill="#ff7373"/>
<rect x="1963.08" y="430.05" width="39.87" height="40.35" fill="#ff3333"/>
<rect x="2002.35" y="430.05" width="39.87" height="40.35" fill="#ff2929"/>
<rect x="1413.3" y="469.8" width="39.87" height="40.35" fill="#5959ff"/>
<rect x="1452.57" y="469.8" width="39.87" height="40.35" fill="#6363ff"/>
<rect x="1491.84" y="469.8" width="39.87" height="40.35" fill="#3333ff"/>
<rect x="1531.11" y="469.8" width="39.87" height="40.35" fill="#4747ff"/>
<rect x="1570.38" y="469.8" width="39.87" height="40.35" fill="#9191ff"/>
<rect x="1609.65" y="469.8" width="39.87" height="40.35" fill="#fffafa"/>
<rect x="1648.92" y="469.8" width="39.87" height="40.35" fill="#9191ff"/>
<rect x="1688.19" y="469.8" width="39.87" height="40.35" fill="#ffcccc"/>
<rect x="1727.46" y="469.8" width="39.87" height="40.35" fill="#ff7d7d"/>
<rect x="1766.73" y="469.8" width="39.87" height="40.35" fill="#ffeded"/>
<rect x="1806" y="469.8" width="39.87" height="40.35" fill="#ffdbdb"/>
<rect x="1845.27" y="469.8" width="39.87" height="40.35" fill="#ffc3c3"/>
<rect x="1884.54" y="469.8" width="39.87" height="40.35" fill="#ff8787"/>
<rect x="1923.81" y="469.8" width="39.87" height="40.35" fill="#ff6e6e"/>
<rect x="1963.08" y="469.8" width="39.87" height="40.35" fill="#ff2424"/>
<rect x="2002.35" y="469.8" width="39.87" height="40.35" fill="#ff1919"/>
<rect x="1413.3" y="509.55" width="39.87" height="40.35" fill="#3838ff"/>
<rect x="1452.57" y="509.55" width="39.87" height="40.35" fill="#4d4dff"/>
<rect x="1491.84" y="509.55" width="39.87" height="40.35" fill="#1f1fff"/>
<rect x="1531.11" y="509.55" width="39.87" height="40.35" fill="#1717ff"/>
<rect x="1570.38" y="509.55" width="39.87" height="40.35" fill="#c7c7ff"/>
<rect x="1609.65" y="509.55" width="39.87" height="40.35" fill="#ffa1a1"/>
<rect x="1648.92" y="509.55" width="39.87" height="40.35" fill="#fafaff"/>
<rect x="1688.19" y="509.55" width="39.87" height="40.35" fill="#ebebff"/>
<rect x="1727.46" y="509.55" width="39.87" height="40.35" fill="#ffd6d6"/>
<rect x="1766.73" y="509.55" width="39.87" height="40.35" fill="#ffe0e0"/>
<rect x="1806" y="509.55" width="39.87" height="40.35" fill="#ffe8e8"/>
<rect x="1845.27" y="509.55" width="39.87" height="40.35" fill="#ffd1d1"/>
<rect x="1884.54" y="509.55" width="39.87" height="40.35" fill="#ff7878"/>
<rect x="1923.81" y="509.55" width="39.87" height="40.35" fill="#ff8080"/>
<rect x="1963.08" y="509.55" width="39.87" height="40.35" fill="#ff4d4d"/>
<rect x="2002.35" y="509.55" width="39.87" height="40.35" fill="#ff2929"/>
<rect x="1413.3" y="549.3" width="39.87" height="40.35" fill="#7373ff"/>
<rect x="1452.57" y="549.3" width="39.87" height="40.35" fill="#6b6bff"/>
<rect x="1491.84" y="549.3" width="39.87" height="40.35" fill="#0f0fff"/>
<rect x="1531.11" y="549.3" width="39.87" height="40.35" fill="#3333ff"/>
<rect x="1570.38" y="549.3" width="39.87" height="40.35" fill="#9c9cff"/>
<rect x="1609.65" y="549.3" width="39.87" height="40.35" fill="#ffc3c3"/>
<rect x="1648.92" y="549.3" width="39.87" height="40.35" fill="#dedeff"/>
<rect x="1688.19" y="549.3" width="39.87" height="40.35" fill="#f5f5ff"/>
<rect x="1727.46" y="549.3" width="39.87" height="40.35" fill="#ff9494"/>
<rect x="1766.73" y="549.3" width="39.87" height="40.35" fill="#ffbebe"/>
<rect x="1806" y="549.3" width="39.87" height="40.35" fill="#ffbebe"/>
<rect x="1845.27" y="549.3" width="39.87" height="40.35" fill="#ff9191"/>
<rect x="1884.54" y="549.3" width="39.87" height="40.35" fill="#ff7373"/>
<rect x="1923.81" y="549.3" width="39.87" height="40.35" fill="#ff5454"/>
<rect x="1963.08" y="549.3" width="39.87" height="40.35" fill="#ff4f4f"/>
<rect x="2002.35" y="549.3" width="39.87" height="40.35" fill="#ff2929"/>
<rect x="1413.3" y="589.05" width="39.87" height="40.35" fill="#ffdada"/>
<rect x="1452.57" y="589.05" width="39.87" height="40.35" fill="#ffdada"/>
<rect x="1491.84" y="589.05" width="39.87" height="40.35" fill="#dedeff"/>
<rect x="1531.11" y="589.05" width="39.87" height="40.35" fill="#e3e3ff"/>
<rect x="1570.38" y="589.05" width="39.87" height="40.35" fill="#fffcfc"/>
<rect x="1609.65" y="589.05" width="39.87" height="40.35" fill="#ffc8c8"/>
<rect x="1648.92" y="589.05" width="39.87" height="40.35" fill="#d1d1ff"/>
<rect x="1688.19" y="589.05" width="39.87" height="40.35" fill="#6161ff"/>
<rect x="1727.46" y="589.05" width="39.87" height="40.35" fill="#ebebff"/>
<rect x="1766.73" y="589.05" width="39.87" height="40.35" fill="#b5b5ff"/>
<rect x="1806" y="589.05" width="39.87" height="40.35" fill="#b2b2ff"/>
<rect x="1845.27" y="589.05" width="39.87" height="40.35" fill="#fff0f0"/>
<rect x="1884.54" y="589.05" width="39.87" height="40.35" fill="#ffc3c3"/>
<rect x="1923.81" y="589.05" width="39.87" height="40.35" fill="#ff7878"/>
<rect x="1963.08" y="589.05" width="39.87" height="40.35" fill="#e3e3ff"/>
<rect x="2002.35" y="589.05" width="39.87" height="40.35" fill="#e3e3ff"/>
<rect x="1413.3" y="628.8" width="39.87" height="40.35" fill="#5959ff"/>
<rect x="1452.57" y="628.8" width="39.87" height="40.35" fill="#6e6eff"/>
<rect x="1491.84" y="628.8" width="39.87" height="40.35" fill="#8c8cff"/>
<rect x="1531.11" y="628.8" width="39.87" height="40.35" fill="#3d3dff"/>
<rect x="1570.38" y="628.8" width="39.87" height="40.35" fill="#ff9696"/>
<rect x="1609.65" y="628.8" width="39.87" height="40.35" fill="#ff2929"/>
<rect x="1648.92" y="628.8" width="39.87" height="40.35" fill="#ffa1a1"/>
<rect x="1688.19" y="628.8" width="39.87" height="40.35" fill="#6969ff"/>
<rect x="1727.46" y="628.8" width="39.87" height="40.35" fill="#8080ff"/>
<rect x="1766.73" y="628.8" width="39.87" height="40.35" fill="#d1d1ff"/>
<rect x="1806" y="628.8" width="39.87" height="40.35" fill="#8282ff"/>
<rect x="1845.27" y="628.8" width="39.87" height="40.35" fill="#a1a1ff"/>
<rect x="1884.54" y="628.8" width="39.87" height="40.35" fill="#ffe0e0"/>
<rect x="1923.81" y="628.8" width="39.87" height="40.35" fill="#fff2f2"/>
<rect x="1963.08" y="628.8" width="39.87" height="40.35" fill="#ffbdbd"/>
<rect x="2002.35" y="628.8" width="39.87" height="40.35" fill="#ffbaba"/>
<rect x="1413.3" y="668.55" width="39.87" height="40.35" fill="#ffbebe"/>
<rect x="1452.57" y="668.55" width="39.87" height="40.35" fill="#ffabab"/>
<rect x="1491.84" y="668.55" width="39.87" height="40.35" fill="#ff1414"/>
<rect x="1531.11" y="668.55" width="39.87" height="40.35" fill="#ff3d3d"/>
<rect x="1570.38" y="668.55" width="39.87" height="40.35" fill="#ff9c9c"/>
<rect x="1609.65" y="668.55" width="39.87" height="40.35" fill="#8c8cff"/>
<rect x="1648.92" y="668.55" width="39.87" height="40.35" fill="#b2b2ff"/>
<rect x="1688.19" y="668.55" width="39.87" height="40.35" fill="#f2f2ff"/>
<rect x="1727.46" y="668.55" width="39.87" height="40.35" fill="#8282ff"/>
<rect x="1766.73" y="668.55" width="39.87" height="40.35" fill="#8282ff"/>
<rect x="1806" y="668.55" width="39.87" height="40.35" fill="#9e9eff"/>
<rect x="1845.27" y="668.55" width="39.87" height="40.35" fill="#6b6bff"/>
<rect x="1884.54" y="668.55" width="39.87" height="40.35" fill="#9c9cff"/>
<rect x="1923.81" y="668.55" width="39.87" height="40.35" fill="#3d3dff"/>
<rect x="1963.08" y="668.55" width="39.87" height="40.35" fill="#4f4fff"/>
<rect x="2002.35" y="668.55" width="39.87" height="40.35" fill="#2e2eff"/>
<rect x="1413.3" y="708.3" width="39.87" height="40.35" fill="#ff7d7d"/>
<rect x="1452.57" y="708.3" width="39.87" height="40.35" fill="#ff7a7a"/>
<rect x="1491.84" y="708.3" width="39.87" height="40.35" fill="#ff0000"/>
<rect x="1531.11" y="708.3" width="39.87" height="40.35" fill="#ff1f1f"/>
<rect x="1570.38" y="708.3" width="39.87" height="40.35" fill="#ffa8a8"/>
<rect x="1609.65" y="708.3" width="39.87" height="40.35" fill="#9e9eff"/>
<rect x="1648.92" y="708.3" width="39.87" height="40.35" fill="#ededff"/>
<rect x="1688.19" y="708.3" width="39.87" height="40.35" fill="#f0f0ff"/>
<rect x="1727.46" y="708.3" width="39.87" height="40.35" fill="#8f8fff"/>
<rect x="1766.73" y="708.3" width="39.87" height="40.35" fill="#9696ff"/>
<rect x="1806" y="708.3" width="39.87" height="40.35" fill="#b2b2ff"/>
<rect x="1845.27" y="708.3" width="39.87" height="40.35" fill="#8a8aff"/>
<rect x="1884.54" y="708.3" width="39.87" height="40.35" fill="#7070ff"/>
<rect x="1923.81" y="708.3" width="39.87" height="40.35" fill="#4040ff"/>
<rect x="1963.08" y="708.3" width="39.87" height="40.35" fill="#2424ff"/>
<rect x="2002.35" y="708.3" width="39.87" height="40.35" fill="#0505ff"/>
<rect x="1413.3" y="748.05" width="39.87" height="40.35" fill="#fff5f5"/>
<rect x="1452.57" y="748.05" width="39.87" height="40.35" fill="#ffc3c3"/>
<rect x="1491.84" y="748.05" width="39.87" height="40.35" fill="#ff3333"/>
<rect x="1531.11" y="748.05" width="39.87" height="40.35" fill="#ff7575"/>
<rect x="1570.38" y="748.05" width="39.87" height="40.35" fill="#ff8f8f"/>
<rect x="1609.65" y="748.05" width="39.87" height="40.35" fill="#ababff"/>
<rect x="1648.92" y="748.05" width="39.87" height="40.35" fill="#9696ff"/>
<rect x="1688.19" y="748.05" width="39.87" height="40.35" fill="#c7c7ff"/>
<rect x="1727.46" y="748.05" width="39.87" height="40.35" fill="#7575ff"/>
<rect x="1766.73" y="748.05" width="39.87" height="40.35" fill="#3030ff"/>
<rect x="1806" y="748.05" width="39.87" height="40.35" fill="#4f4fff"/>
<rect x="1845.27" y="748.05" width="39.87" height="40.35" fill="#4545ff"/>
<rect x="1884.54" y="748.05" width="39.87" height="40.35" fill="#b2b2ff"/>
<rect x="1923.81" y="748.05" width="39.87" height="40.35" fill="#7a7aff"/>
<rect x="1963.08" y="748.05" width="39.87" height="40.35" fill="#8585ff"/>
<rect x="2002.35" y="748.05" width="39.87" height="40.35" fill="#4f4fff"/>
<rect x="1413.3" y="787.8" width="39.87" height="40.35" fill="#dbdbff"/>
<rect x="1452.57" y="787.8" width="39.87" height="40.35" fill="#ffe8e8"/>
<rect x="1491.84" y="787.8" width="39.87" height="40.35" fill="#ff5959"/>
<rect x="1531.11" y="787.8" width="39.87" height="40.35" fill="#ffabab"/>
<rect x="1570.38" y="787.8" width="39.87" height="40.35" fill="#ffa6a6"/>
<rect x="1609.65" y="787.8" width="39.87" height="40.35" fill="#ffe6e6"/>
<rect x="1648.92" y="787.8" width="39.87" height="40.35" fill="#e6e6ff"/>
<rect x="1688.19" y="787.8" width="39.87" height="40.35" fill="#ccccff"/>
<rect x="1727.46" y="787.8" width="39.87" height="40.35" fill="#6e6eff"/>
<rect x="1766.73" y="787.8" width="39.87" height="40.35" fill="#2a2aff"/>
<rect x="1806" y="787.8" width="39.87" height="40.35" fill="#1919ff"/>
<rect x="1845.27" y="787.8" width="39.87" height="40.35" fill="#0000ff"/>
<rect x="1884.54" y="787.8" width="39.87" height="40.35" fill="#6969ff"/>
<rect x="1923.81" y="787.8" width="39.87" height="40.35" fill="#7a7aff"/>
<rect x="1963.08" y="787.8" width="39.87" height="40.35" fill="#c8c8ff"/>
<rect x="2002.35" y="787.8" width="39.87" height="40.35" fill="#8c8cff"/>
<rect x="1413.3" y="827.55" width="39.87" height="40.35" fill="#ff9191"/>
<rect x="1452.57" y="827.55" width="39.87" height="40.35" fill="#ffa6a6"/>
<rect x="1491.84" y="827.55" width="39.87" height="40.35" fill="#c8c8ff"/>
<rect x="1531.11" y="827.55" width="39.87" height="40.35" fill="#ffffff"/>
<rect x="1570.38" y="827.55" width="39.87" height="40.35" fill="#6b6bff"/>
<rect x="1609.65" y="827.55" width="39.87" height="40.35" fill="#ff8787"/>
<rect x="1648.92" y="827.55" width="39.87" height="40.35" fill="#ff3c3c"/>
<rect x="1688.19" y="827.55" width="39.87" height="40.35" fill="#ffe4e4"/>
<rect x="1727.46" y="827.55" width="39.87" height="40.35" fill="#ffb2b2"/>
<rect x="1766.73" y="827.55" width="39.87" height="40.35" fill="#ffcdcd"/>
<rect x="1806" y="827.55" width="39.87" height="40.35" fill="#ffffff"/>
<rect x="1845.27" y="827.55" width="39.87" height="40.35" fill="#f5f5ff"/>
<rect x="1884.54" y="827.55" width="39.87" height="40.35" fill="#3d3dff"/>
<rect x="1923.81" y="827.55" width="39.87" height="40.35" fill="#ffd1d1"/>
<rect x="1963.08" y="827.55" width="39.87" height="40.35" fill="#ffd6d6"/>
<rect x="2002.35" y="827.55" width="39.87" height="40.35" fill="#ffeded"/>
<rect x="1413.3" y="867.3" width="39.87" height="40.35" fill="#ff2e2e"/>
<rect x="1452.57" y="867.3" width="39.87" height="40.35" fill="#ff3333"/>
<rect x="1491.84" y="867.3" width="39.87" height="40.35" fill="#ffa1a1"/>
<rect x="1531.11" y="867.3" width="39.87" height="40.35" fill="#ff4747"/>
<rect x="1570.38" y="867.3" width="39.87" height="40.35" fill="#babaff"/>
<rect x="1609.65" y="867.3" width="39.87" height="40.35" fill="#8a8aff"/>
<rect x="1648.92" y="867.3" width="39.87" height="40.35" fill="#babaff"/>
<rect x="1688.19" y="867.3" width="39.87" height="40.35" fill="#f0f0ff"/>
<rect x="1727.46" y="867.3" width="39.87" height="40.35" fill="#ffb2b2"/>
<rect x="1766.73" y="867.3" width="39.87" height="40.35" fill="#d1d1ff"/>
<rect x="1806" y="867.3" width="39.87" height="40.35" fill="#f0f0ff"/>
<rect x="1845.27" y="867.3" width="39.87" height="40.35" fill="#ffe8e8"/>
<rect x="1884.54" y="867.3" width="39.87" height="40.35" fill="#a1a1ff"/>
<rect x="1923.81" y="867.3" width="39.87" height="40.35" fill="#ffcdcd"/>
<rect x="1963.08" y="867.3" width="39.87" height="40.35" fill="#a2a2ff"/>
<rect x="2002.35" y="867.3" width="39.87" height="40.35" fill="#8282ff"/>
<rect x="1413.3" y="907.05" width="39.87" height="40.35" fill="#ff6363"/>
<rect x="1452.57" y="907.05" width="39.87" height="40.35" fill="#ff8a8a"/>
<rect x="1491.84" y="907.05" width="39.87" height="40.35" fill="#ffa1a1"/>
<rect x="1531.11" y="907.05" width="39.87" height="40.35" fill="#ff6b6b"/>
<rect x="1570.38" y="907.05" width="39.87" height="40.35" fill="#c3c3ff"/>
<rect x="1609.65" y="907.05" width="39.87" height="40.35" fill="#8a8aff"/>
<rect x="1648.92" y="907.05" width="39.87" height="40.35" fill="#ffbebe"/>
<rect x="1688.19" y="907.05" width="39.87" height="40.35" fill="#ff8787"/>
<rect x="1727.46" y="907.05" width="39.87" height="40.35" fill="#ffd1d1"/>
<rect x="1766.73" y="907.05" width="39.87" height="40.35" fill="#ff8585"/>
<rect x="1806" y="907.05" width="39.87" height="40.35" fill="#ff7d7d"/>
<rect x="1845.27" y="907.05" width="39.87" height="40.35" fill="#ffabab"/>
<rect x="1884.54" y="907.05" width="39.87" height="40.35" fill="#a1a1ff"/>
<rect x="1923.81" y="907.05" width="39.87" height="40.35" fill="#9e9eff"/>
<rect x="1963.08" y="907.05" width="39.87" height="40.35" fill="#8585ff"/>
<rect x="2002.35" y="907.05" width="39.87" height="40.35" fill="#9696ff"/>
<rect x="1413.3" y="946.8" width="39.87" height="40.35" fill="#ff5e5e"/>
<rect x="1452.57" y="946.8" width="39.87" height="40.35" fill="#ff7d7d"/>
<rect x="1491.84" y="946.8" width="39.87" height="40.35" fill="#ff6b6b"/>
<rect x="1531.11" y="946.8" width="39.87" height="40.35" fill="#ff3d3d"/>
<rect x="1570.38" y="946.8" width="39.87" height="40.35" fill="#f5f5ff"/>
<rect x="1609.65" y="946.8" width="39.87" height="40.35" fill="#2e2eff"/>
<rect x="1648.92" y="946.8" width="39.87" height="40.35" fill="#d6d6ff"/>
<rect x="1688.19" y="946.8" width="39.87" height="40.35" fill="#ffa1a1"/>
<rect x="1727.46" y="946.8" width="39.87" height="40.35" fill="#ffdbdb"/>
<rect x="1766.73" y="946.8" width="39.87" height="40.35" fill="#ffc3c3"/>
<rect x="1806" y="946.8" width="39.87" height="40.35" fill="#ff8a8a"/>
<rect x="1845.27" y="946.8" width="39.87" height="40.35" fill="#ffa6a6"/>
<rect x="1884.54" y="946.8" width="39.87" height="40.35" fill="#d1d1ff"/>
<rect x="1923.81" y="946.8" width="39.87" height="40.35" fill="#9191ff"/>
<rect x="1963.08" y="946.8" width="39.87" height="40.35" fill="#5454ff"/>
<rect x="2002.35" y="946.8" width="39.87" height="40.35" fill="#5e5eff"/>
<rect x="1413.3" y="986.55" width="39.87" height="40.35" fill="#ff6e6e"/>
<rect x="1452.57" y="986.55" width="39.87" height="40.35" fill="#ff9191"/>
<rect x="1491.84" y="986.55" width="39.87" height="40.35" fill="#ff9494"/>
<rect x="1531.11" y="986.55" width="39.87" height="40.35" fill="#ff6262"/>
<rect x="1570.38" y="986.55" width="39.87" height="40.35" fill="#d6d6ff"/>
<rect x="1609.65" y="986.55" width="39.87" height="40.35" fill="#1212ff"/>
<rect x="1648.92" y="986.55" width="39.87" height="40.35" fill="#b0b0ff"/>
<rect x="1688.19" y="986.55" width="39.87" height="40.35" fill="#ff7878"/>
<rect x="1727.46" y="986.55" width="39.87" height="40.35" fill="#ffa6a6"/>
<rect x="1766.73" y="986.55" width="39.87" height="40.35" fill="#ffacac"/>
<rect x="1806" y="986.55" width="39.87" height="40.35" fill="#ff6363"/>
<rect x="1845.27" y="986.55" width="39.87" height="40.35" fill="#ff7a7a"/>
<rect x="1884.54" y="986.55" width="39.87" height="40.35" fill="#fff7f7"/>
<rect x="1923.81" y="986.55" width="39.87" height="40.35" fill="#a6a6ff"/>
<rect x="1963.08" y="986.55" width="39.87" height="40.35" fill="#8787ff"/>
<rect x="2002.35" y="986.55" width="39.87" height="40.35" fill="#8c8cff"/>
<rect x="1413.3" y="1026.3" width="39.87" height="40.35" fill="#ff7070"/>
<rect x="1452.57" y="1026.3" width="39.87" height="40.35" fill="#ff9191"/>
<rect x="1491.84" y="1026.3" width="39.87" height="40.35" fill="#ff8787"/>
<rect x="1531.11" y="1026.3" width="39.87" height="40.35" fill="#ff4747"/>
<rect x="1570.38" y="1026.3" width="39.87" height="40.35" fill="#c8c8ff"/>
<rect x="1609.65" y="1026.3" width="39.87" height="40.35" fill="#0f0fff"/>
<rect x="1648.92" y="1026.3" width="39.87" height="40.35" fill="#ababff"/>
<rect x="1688.19" y="1026.3" width="39.87" height="40.35" fill="#ff7a7a"/>
<rect x="1727.46" y="1026.3" width="39.87" height="40.35" fill="#ffa6a6"/>
<rect x="1766.73" y="1026.3" width="39.87" height="40.35" fill="#ffb2b2"/>
<rect x="1806" y="1026.3" width="39.87" height="40.35" fill="#ff6b6b"/>
<rect x="1845.27" y="1026.3" width="39.87" height="40.35" fill="#ff9191"/>
<rect x="1884.54" y="1026.3" width="39.87" height="40.35" fill="#f2f2ff"/>
<rect x="1923.81" y="1026.3" width="39.87" height="40.35" fill="#a8a8ff"/>
<rect x="1963.08" y="1026.3" width="39.87" height="40.35" fill="#8282ff"/>
<rect x="2002.35" y="1026.3" width="39.87" height="40.35" fill="#8787ff"/>
<rect x="1413.3" y="1066.05" width="39.87" height="40.35" fill="#ff7373"/>
<rect x="1452.57" y="1066.05" width="39.87" height="40.35" fill="#ff8f8f"/>
<rect x="1491.84" y="1066.05" width="39.87" height="40.35" fill="#ff9494"/>
<rect x="1531.11" y="1066.05" width="39.87" height="40.35" fill="#ff5454"/>
<rect x="1570.38" y="1066.05" width="39.87" height="40.35" fill="#ccccff"/>
<rect x="1609.65" y="1066.05" width="39.87" height="40.35" fill="#0505ff"/>
<rect x="1648.92" y="1066.05" width="39.87" height="40.35" fill="#a6a6ff"/>
<rect x="1688.19" y="1066.05" width="39.87" height="40.35" fill="#ff7a7a"/>
<rect x="1727.46" y="1066.05" width="39.87" height="40.35" fill="#ff9e9e"/>
<rect x="1766.73" y="1066.05" width="39.87" height="40.35" fill="#ffc7c7"/>
<rect x="1806" y="1066.05" width="39.87" height="40.35" fill="#ff7070"/>
<rect x="1845.27" y="1066.05" width="39.87" height="40.35" fill="#ff9c9c"/>
<rect x="1884.54" y="1066.05" width="39.87" height="40.35" fill="#f5f5ff"/>
<rect x="1923.81" y="1066.05" width="39.87" height="40.35" fill="#a8a8ff"/>
<rect x="1963.08" y="1066.05" width="39.87" height="40.35" fill="#8c8cff"/>
<rect x="2002.35" y="1066.05" width="39.87" height="40.35" fill="#9191ff"/>
</g>
<rect x="2041.62" y="309.8" width="2" height="798" fill="#fff"/>
<rect x="1412.3" y="1105.8" width="631.32" height="2" fill="#fff"/>
<g class="la" font-size="15" text-anchor="middle" fill="#000">
<text transform="translate(1432.93,338.18) scale(1.05,1)">***</text>
<text transform="translate(1472.2,338.18) scale(1.05,1)">**</text>
<text transform="translate(1511.47,338.18) scale(1.05,1)">*</text>
<text transform="translate(1550.74,338.18) scale(1.05,1)">**</text>
<text transform="translate(1982.72,338.18) scale(1.05,1)">***</text>
<text transform="translate(2021.99,338.18) scale(1.05,1)">***</text>
<text transform="translate(1432.93,377.93) scale(1.05,1)">***</text>
<text transform="translate(1472.2,377.93) scale(1.05,1)">**</text>
<text transform="translate(1511.47,377.93) scale(1.05,1)">*</text>
<text transform="translate(1550.74,377.93) scale(1.05,1)">**</text>
<text transform="translate(1904.17,377.93) scale(1.05,1)">**</text>
<text transform="translate(1982.72,377.93) scale(1.05,1)">*</text>
<text transform="translate(2021.99,377.93) scale(1.05,1)">**</text>
<text transform="translate(1432.93,417.68) scale(1.05,1)">**</text>
<text transform="translate(1472.2,417.68) scale(1.05,1)">**</text>
<text transform="translate(1511.47,417.68) scale(1.05,1)">**</text>
<text transform="translate(1550.74,417.68) scale(1.05,1)">**</text>
<text transform="translate(1825.63,417.68) scale(1.05,1)">*</text>
<text transform="translate(1864.9,417.68) scale(1.05,1)">*</text>
<text transform="translate(1904.17,417.68) scale(1.05,1)">***</text>
<text transform="translate(2021.99,417.68) scale(1.05,1)">**</text>
<text transform="translate(1432.93,457.43) scale(1.05,1)">*</text>
<text transform="translate(1472.2,457.43) scale(1.05,1)">*</text>
<text transform="translate(1511.47,457.43) scale(1.05,1)">**</text>
<text transform="translate(1550.74,457.43) scale(1.05,1)">**</text>
<text transform="translate(1904.17,457.43) scale(1.05,1)">*</text>
<text transform="translate(1943.45,457.43) scale(1.05,1)">*</text>
<text transform="translate(1982.72,457.43) scale(1.05,1)">***</text>
<text transform="translate(2021.99,457.43) scale(1.05,1)">***</text>
<text transform="translate(1432.93,497.18) scale(1.05,1)">*</text>
<text transform="translate(1472.2,497.18) scale(1.05,1)">*</text>
<text transform="translate(1511.47,497.18) scale(1.05,1)">***</text>
<text transform="translate(1550.74,497.18) scale(1.05,1)">**</text>
<text transform="translate(1747.1,497.18) scale(1.05,1)">*</text>
<text transform="translate(1943.45,497.18) scale(1.05,1)">*</text>
<text transform="translate(1982.72,497.18) scale(1.05,1)">***</text>
<text transform="translate(2021.99,497.18) scale(1.05,1)">***</text>
<text transform="translate(1432.93,536.92) scale(1.05,1)">**</text>
<text transform="translate(1472.2,536.92) scale(1.05,1)">**</text>
<text transform="translate(1511.47,536.92) scale(1.05,1)">***</text>
<text transform="translate(1550.74,536.92) scale(1.05,1)">***</text>
<text transform="translate(1904.17,536.92) scale(1.05,1)">*</text>
<text transform="translate(1943.45,536.92) scale(1.05,1)">*</text>
<text transform="translate(1982.72,536.92) scale(1.05,1)">**</text>
<text transform="translate(2021.99,536.92) scale(1.05,1)">***</text>
<text transform="translate(1432.93,576.67) scale(1.05,1)">*</text>
<text transform="translate(1472.2,576.67) scale(1.05,1)">*</text>
<text transform="translate(1511.47,576.67) scale(1.05,1)">***</text>
<text transform="translate(1550.74,576.67) scale(1.05,1)">***</text>
<text transform="translate(1904.17,576.67) scale(1.05,1)">*</text>
<text transform="translate(1943.45,576.67) scale(1.05,1)">**</text>
<text transform="translate(1982.72,576.67) scale(1.05,1)">**</text>
<text transform="translate(2021.99,576.67) scale(1.05,1)">***</text>
<text transform="translate(1707.83,616.42) scale(1.05,1)">*</text>
<text transform="translate(1943.45,616.42) scale(1.05,1)">*</text>
<text transform="translate(1432.93,656.17) scale(1.05,1)">*</text>
<text transform="translate(1472.2,656.17) scale(1.05,1)">*</text>
<text transform="translate(1550.74,656.17) scale(1.05,1)">**</text>
<text transform="translate(1629.28,656.17) scale(1.05,1)">***</text>
<text transform="translate(1707.83,656.17) scale(1.05,1)">*</text>
<text transform="translate(1511.47,695.92) scale(1.05,1)">***</text>
<text transform="translate(1550.74,695.92) scale(1.05,1)">***</text>
<text transform="translate(1864.9,695.92) scale(1.05,1)">*</text>
<text transform="translate(1943.45,695.92) scale(1.05,1)">**</text>
<text transform="translate(1982.72,695.92) scale(1.05,1)">**</text>
<text transform="translate(2021.99,695.92) scale(1.05,1)">***</text>
<text transform="translate(1432.93,735.67) scale(1.05,1)">*</text>
<text transform="translate(1472.2,735.67) scale(1.05,1)">*</text>
<text transform="translate(1511.47,735.67) scale(1.05,1)">***</text>
<text transform="translate(1550.74,735.67) scale(1.05,1)">***</text>
<text transform="translate(1904.17,735.67) scale(1.05,1)">*</text>
<text transform="translate(1943.45,735.67) scale(1.05,1)">**</text>
<text transform="translate(1982.72,735.67) scale(1.05,1)">***</text>
<text transform="translate(2021.99,735.67) scale(1.05,1)">***</text>
<text transform="translate(1511.47,775.42) scale(1.05,1)">***</text>
<text transform="translate(1550.74,775.42) scale(1.05,1)">*</text>
<text transform="translate(1747.1,775.42) scale(1.05,1)">*</text>
<text transform="translate(1786.37,775.42) scale(1.05,1)">***</text>
<text transform="translate(1825.63,775.42) scale(1.05,1)">**</text>
<text transform="translate(1864.9,775.42) scale(1.05,1)">**</text>
<text transform="translate(2021.99,775.42) scale(1.05,1)">**</text>
<text transform="translate(1511.47,815.17) scale(1.05,1)">**</text>
<text transform="translate(1747.1,815.17) scale(1.05,1)">*</text>
<text transform="translate(1786.37,815.17) scale(1.05,1)">***</text>
<text transform="translate(1825.63,815.17) scale(1.05,1)">***</text>
<text transform="translate(1864.9,815.17) scale(1.05,1)">***</text>
<text transform="translate(1904.17,815.17) scale(1.05,1)">*</text>
<text transform="translate(1590.01,854.92) scale(1.05,1)">*</text>
<text transform="translate(1668.56,854.92) scale(1.05,1)">***</text>
<text transform="translate(1904.17,854.92) scale(1.05,1)">**</text>
<text transform="translate(1432.93,894.67) scale(1.05,1)">***</text>
<text transform="translate(1472.2,894.67) scale(1.05,1)">***</text>
<text transform="translate(1550.74,894.67) scale(1.05,1)">**</text>
<text transform="translate(1432.93,934.42) scale(1.05,1)">*</text>
<text transform="translate(1550.74,934.42) scale(1.05,1)">*</text>
<text transform="translate(1825.63,934.42) scale(1.05,1)">*</text>
<text transform="translate(1432.93,974.17) scale(1.05,1)">*</text>
<text transform="translate(1472.2,974.17) scale(1.05,1)">*</text>
<text transform="translate(1511.47,974.17) scale(1.05,1)">*</text>
<text transform="translate(1550.74,974.17) scale(1.05,1)">***</text>
<text transform="translate(1629.28,974.17) scale(1.05,1)">***</text>
<text transform="translate(1982.72,974.17) scale(1.05,1)">**</text>
<text transform="translate(2021.99,974.17) scale(1.05,1)">*</text>
<text transform="translate(1432.93,1013.92) scale(1.05,1)">*</text>
<text transform="translate(1550.74,1013.92) scale(1.05,1)">*</text>
<text transform="translate(1629.28,1013.92) scale(1.05,1)">***</text>
<text transform="translate(1707.83,1013.92) scale(1.05,1)">*</text>
<text transform="translate(1825.63,1013.92) scale(1.05,1)">*</text>
<text transform="translate(1864.9,1013.92) scale(1.05,1)">*</text>
<text transform="translate(1432.93,1053.67) scale(1.05,1)">*</text>
<text transform="translate(1550.74,1053.67) scale(1.05,1)">**</text>
<text transform="translate(1629.28,1053.67) scale(1.05,1)">***</text>
<text transform="translate(1707.83,1053.67) scale(1.05,1)">*</text>
<text transform="translate(1825.63,1053.67) scale(1.05,1)">*</text>
<text transform="translate(1432.93,1093.42) scale(1.05,1)">*</text>
<text transform="translate(1550.74,1093.42) scale(1.05,1)">**</text>
<text transform="translate(1629.28,1093.42) scale(1.05,1)">***</text>
<text transform="translate(1707.83,1093.42) scale(1.05,1)">*</text>
<text transform="translate(1825.63,1093.42) scale(1.05,1)">*</text>
</g>
<path d="M1432.93 310.8V294.8H1472.2V310.8M1511.47 310.8V279.5H1550.74V310.8M1452.57 294.8V247.7H1531.11V279.5M1629.28 310.8V241H1668.56V310.8M1590.01 310.8V215H1648.92V241M1825.63 310.8V287.5H1864.9V310.8M1786.37 310.8V282.3H1845.27V287.5M1747.1 310.8V267.2H1815.82V282.3M1707.83 310.8V252.4H1781.46V267.2M1982.72 310.8V289.4H2021.99V310.8M1943.45 310.8V256.6H2002.35V289.4M1904.17 310.8V244.9H1972.9V256.6M1744.64 252.4V192H1938.54V244.9M1619.47 215V171H1841.59V192M1491.84 247.7V98.4H1730.53V171M1413.3 370.43H1389.7V410.18H1413.3M1413.3 449.93H1407.8V489.68H1413.3M1413.3 529.42H1391V569.17H1413.3M1407.8 469.8H1382.7V549.3H1391M1389.7 390.3H1371.8V509.55H1382.7M1413.3 330.68H1353V449.92H1371.8M1413.3 608.92H1344.7V648.67H1413.3M1353 390.3H1323.4V628.8H1344.7M1413.3 688.42H1391.6V728.17H1413.3M1413.3 767.92H1381.7V807.67H1413.3M1391.6 708.3H1351.4V787.8H1381.7M1413.3 1046.17H1407.8V1085.92H1413.3M1413.3 1006.42H1405.3V1066.05H1407.8M1413.3 966.67H1391V1036.24H1405.3M1413.3 926.92H1378.5V1001.46H1391M1413.3 887.17H1359.1V964.19H1378.5M1413.3 847.42H1319.6V925.68H1359.1M1351.4 748.05H1300.8V886.55H1319.6M1323.4 509.55H1246V817.3H1300.8" fill="none" stroke="#000" stroke-width="1.7" stroke-linejoin="round"/>
<g class="ls" font-size="23.5" fill="#000" letter-spacing="-0.66" stroke="#000" stroke-width="0.3">
<text transform="translate(2053.3,338.57) scale(0.848,1)">Octylamine</text>
<text transform="translate(2053.3,378.32) scale(0.848,1)">Trp-Ala-Arg</text>
<text transform="translate(2053.3,418.07) scale(0.848,1)">Magnoshinin</text>
<text transform="translate(2053.3,457.82) scale(0.848,1)">20-hydroxy-fusarin</text>
<text transform="translate(2053.3,497.57) scale(0.848,1)">Burseran</text>
<text transform="translate(2053.3,537.32) scale(0.848,1)">Austalide L</text>
<text transform="translate(2053.3,577.07) scale(0.848,1)">Myxopyronin A</text>
<text transform="translate(2053.3,616.82) scale(0.848,1)">2-Acetylpyrrolidine</text>
<text transform="translate(2053.3,656.57) scale(0.848,1)">Dehydrocurdione</text>
<text transform="translate(2053.3,696.32) scale(0.848,1)">Litseakolide A</text>
<text transform="translate(2053.3,736.07) scale(0.848,1)">Azelaic acid</text>
<text transform="translate(2053.3,775.82) scale(0.848,1)">Pro-Ile</text>
<text transform="translate(2053.3,815.57) scale(0.848,1)">Pentamidine</text>
<text transform="translate(2053.3,855.32) scale(0.848,1)">Panthenol</text>
<text transform="translate(2053.3,895.07) scale(0.848,1)">Populin</text>
<text transform="translate(2053.3,934.82) scale(0.848,1)">4-methoxysalicylic acid</text>
<text transform="translate(2053.3,974.57) scale(0.848,1)">9,12,13-Todea</text>
<text transform="translate(2053.3,1014.32) scale(0.848,1)">3-(3-hydroxyphenyl)propanoic Acid</text>
<text transform="translate(2053.3,1054.08) scale(0.848,1)">(9Z,11E)-(13S)-13-Hydroperoxyoctadeca-9,11-dienoic acid</text>
<text transform="translate(2053.3,1093.83) scale(0.848,1)">9-OxoODE</text>
</g>
<g class="ls" font-size="22.3" text-anchor="end" fill="#000" letter-spacing="0" stroke="#000" stroke-width="0.45">
<text transform="translate(1438.13,1126.8) scale(0.813,1) rotate(-60) scale(1.03,1)">g_Subgroup_7</text>
<text transform="translate(1477.4,1126.8) scale(0.813,1) rotate(-60) scale(1.03,1)">g_Haliangium</text>
<text transform="translate(1516.67,1126.8) scale(0.813,1) rotate(-60) scale(1.03,1)">g_Dinghuibacter</text>
<text transform="translate(1555.94,1126.8) scale(0.813,1) rotate(-60) scale(1.03,1)">g_Chloroplast</text>
<text transform="translate(1595.21,1126.8) scale(0.813,1) rotate(-60) scale(1.03,1)">g_Ahniella</text>
<text transform="translate(1634.48,1126.8) scale(0.813,1) rotate(-60) scale(1.03,1)">g_Arcicella</text>
<text transform="translate(1673.76,1126.8) scale(0.813,1) rotate(-60) scale(1.03,1)">g_Hydrogenedensaceae</text>
<text transform="translate(1713.03,1126.8) scale(0.813,1) rotate(-60) scale(1.03,1)">g_Nocardioides</text>
<text transform="translate(1752.3,1126.8) scale(0.813,1) rotate(-60) scale(1.03,1)">g_Pontibacter</text>
<text transform="translate(1791.57,1126.8) scale(0.813,1) rotate(-60) scale(1.03,1)">g_Flavisolibacter</text>
<text transform="translate(1830.84,1126.8) scale(0.813,1) rotate(-60) scale(1.03,1)">g_Lysobacter</text>
<text transform="translate(1870.11,1126.8) scale(0.813,1) rotate(-60) scale(1.03,1)">g_Massilia</text>
<text transform="translate(1909.38,1126.8) scale(0.813,1) rotate(-60) scale(1.03,1)">g_Longimicrobiaceae</text>
<text transform="translate(1948.65,1126.8) scale(0.813,1) rotate(-60) scale(1.03,1)">g_Luteolibacter</text>
<text transform="translate(1987.92,1126.8) scale(0.813,1) rotate(-60) scale(1.03,1)">g_Nitrospira</text>
<text transform="translate(2027.19,1126.8) scale(0.813,1) rotate(-60) scale(1.03,1)">g_AKAU4049</text>
</g>
<rect x="2381.5" y="220.2" width="36.1" height="136.4" fill="url(#gA)"/>
<g stroke="#777" stroke-width="1.2">
<line x1="2417.6" y1="220.6" x2="2423.1" y2="220.6"/>
<line x1="2417.6" y1="254.7" x2="2423.1" y2="254.7"/>
<line x1="2417.6" y1="288.8" x2="2423.1" y2="288.8"/>
<line x1="2417.6" y1="322.9" x2="2423.1" y2="322.9"/>
<line x1="2417.6" y1="357" x2="2423.1" y2="357"/>
</g>
<g class="la" font-size="14.6" fill="#000">
<text transform="translate(2429.2,226.1) scale(1.31,1)">1</text>
<text transform="translate(2429.2,260.2) scale(1.31,1)">0.5</text>
<text transform="translate(2429.2,294.3) scale(1.31,1)">0</text>
<text transform="translate(2429.2,328.4) scale(1.31,1)">-0.5</text>
<text transform="translate(2429.2,362.5) scale(1.31,1)">-1</text>
</g>
</g>
</svg></body></html>
